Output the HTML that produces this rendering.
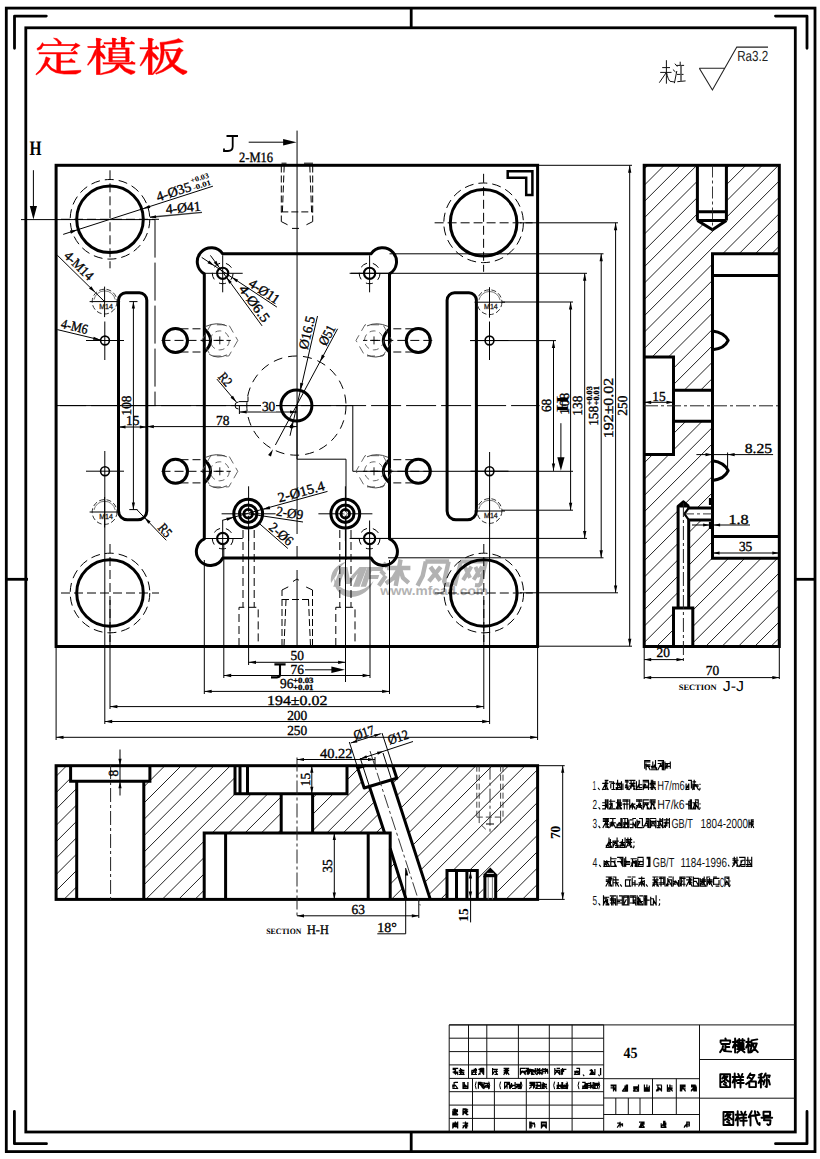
<!DOCTYPE html>
<html><head><meta charset="utf-8"><title>drawing</title>
<style>html,body{margin:0;padding:0;background:#fff;}svg{display:block}</style>
</head><body>
<svg text-rendering="geometricPrecision" width="820" height="1159" viewBox="0 0 820 1159">
<rect x="0" y="0" width="820" height="1159" fill="#fff"/>
<g fill="#b2b2b2" stroke="none">
<path d="M334.5 578 C333 590 342 597.5 352 597 C362 596.5 370 590 373.5 581 C368 588 360 591.5 352 591 C343 590.5 337 585.5 334.5 578 Z"/>
<path d="M331 583 C329.5 573 336 564 347 561.6 C342 565 337.5 569 336.5 575 Z"/>
<path d="M333.2 586.7 L340.9 566.9 L347.4 566.9 L349.6 577.9 L359.5 566.9 L367.2 566.9 L359.5 586.7 L352.9 586.7 L357.8 573.5 L349.6 584.1 L345.2 584.1 L343.7 573.5 L338.7 586.7 Z"/>
<path d="M360.6 586.7 L367.2 566.9 L383.7 566.9 L382.1 570.9 L371.6 570.9 L370.0 575.1 L379.3 575.1 L377.9 579.0 L368.7 579.0 L366.1 586.7 Z"/>
</g>
<path d="M383.2 563.0 L387.2 566.9M380.8 570.9 L384.7 574.9M378.8 585.8 L385.8 575.7" stroke="#b2b2b2" stroke-width="4.2" fill="none" stroke-linejoin="round" stroke-linecap="butt"/>
<path d="M386.9 568.0 L410.4 568.0M400.6 559.5 L395.7 585.8M398.4 569.6 L393.5 577.9 L385.8 583.6M400.3 569.6 L403.0 577.9 L408.7 582.8" stroke="#b2b2b2" stroke-width="4.4" fill="none" stroke-linejoin="round" stroke-linecap="butt"/>
<path d="M425.8 561.5 L422.7 575.7 L417.5 585.8M425.4 561.5 L449.1 561.5M448.6 561.5 L444.2 581.2 L445.5 584.5 L449.5 584.5M430.4 566.9 L440.3 580.6M440.7 566.9 L428.9 581.4" stroke="#b2b2b2" stroke-width="4.4" fill="none" stroke-linejoin="round" stroke-linecap="butt"/>
<path d="M460.9 561.5 L454.8 585.8M460.5 561.5 L486.4 561.5M485.9 561.5 L480.7 583.6 L478.5 585.4 L475.0 584.9M464.9 566.9 L470.1 577.9M471.4 566.5 L463.1 580.1M475.4 566.9 L479.8 577.0M482.0 566.5 L473.6 579.7" stroke="#b2b2b2" stroke-width="4.0" fill="none" stroke-linejoin="round" stroke-linecap="butt"/>
<text x="380.20" y="594.60" font-family="Liberation Sans" font-size="12.6" text-anchor="start" fill="#b2b2b2" font-weight="bold" textLength="107.80" lengthAdjust="spacingAndGlyphs">www.mfcad.com</text>
<rect x="6.30" y="8.10" width="808.70" height="1143.50" rx="0" stroke="#000" stroke-width="2.8" fill="none"/>
<rect x="25.80" y="27.80" width="769.50" height="1104.20" rx="0" stroke="#000" stroke-width="2.8" fill="none"/>
<path d="M46.3 16.1 H14.5 V48.3" stroke="#000" stroke-width="2.8" fill="none" stroke-linejoin="round" stroke-linecap="round"/>
<path d="M775.5 16.1 H807 V48.3" stroke="#000" stroke-width="2.8" fill="none" stroke-linejoin="round" stroke-linecap="round"/>
<path d="M14.4 1111.5 V1143.7 H46.5" stroke="#000" stroke-width="2.8" fill="none" stroke-linejoin="round" stroke-linecap="round"/>
<path d="M807 1111.5 V1143.7 H775.5" stroke="#000" stroke-width="2.8" fill="none" stroke-linejoin="round" stroke-linecap="round"/>
<line x1="411.20" y1="8.10" x2="411.20" y2="27.80" stroke="#000" stroke-width="2.8" stroke-linecap="butt"/>
<line x1="411.20" y1="1132.00" x2="411.20" y2="1151.60" stroke="#000" stroke-width="2.8" stroke-linecap="butt"/>
<line x1="6.30" y1="579.30" x2="28.00" y2="579.30" stroke="#000" stroke-width="2.8" stroke-linecap="butt"/>
<line x1="794.00" y1="579.30" x2="815.00" y2="579.30" stroke="#000" stroke-width="2.8" stroke-linecap="butt"/>
<rect x="56.10" y="165.30" width="481.50" height="481.20" rx="0" stroke="#000" stroke-width="3.0" fill="none"/>
<circle cx="110.00" cy="219.30" r="33.30" stroke="#000" stroke-width="3.0" fill="none"/>
<circle cx="110.00" cy="219.30" r="39.80" stroke="#000" stroke-width="1.0" fill="none" stroke-dasharray="9 5"/>
<circle cx="483.60" cy="222.80" r="33.30" stroke="#000" stroke-width="3.0" fill="none"/>
<circle cx="483.60" cy="222.80" r="39.80" stroke="#000" stroke-width="1.0" fill="none" stroke-dasharray="9 5"/>
<circle cx="110.00" cy="593.00" r="33.30" stroke="#000" stroke-width="3.0" fill="none"/>
<circle cx="110.00" cy="593.00" r="39.80" stroke="#000" stroke-width="1.0" fill="none" stroke-dasharray="9 5"/>
<circle cx="483.80" cy="593.00" r="33.30" stroke="#000" stroke-width="3.0" fill="none"/>
<circle cx="483.80" cy="593.00" r="39.80" stroke="#000" stroke-width="1.0" fill="none" stroke-dasharray="9 5"/>
<path d="M222.8 253.8 L371.0 253.8 A14 14 0 1 1 389.5 273.9 L389.5 538.9 A14 14 0 1 1 371.0 558.0 L222.8 558.0 A14 14 0 1 1 204.3 538.9 L204.3 273.9 A14 14 0 1 1 222.8 253.8 Z" stroke="#000" stroke-width="3.0" fill="none" stroke-linejoin="round" stroke-linecap="butt"/>
<path d="M118.5 300.2 A7.4 7.4 0 0 1 125.9 292.8 H139.4 A7.4 7.4 0 0 1 146.8 300.2 V510.99999999999994 A8.8 8.8 0 0 1 138.0 519.8 H127.3 A8.8 8.8 0 0 1 118.5 510.99999999999994 Z" stroke="#000" stroke-width="3.0" fill="none" stroke-linejoin="miter" stroke-linecap="butt"/>
<path d="M447.1 300.2 A7.4 7.4 0 0 1 454.5 292.8 H469.0 A7.4 7.4 0 0 1 476.4 300.2 V510.99999999999994 A8.8 8.8 0 0 1 467.59999999999997 519.8 H455.90000000000003 A8.8 8.8 0 0 1 447.1 510.99999999999994 Z" stroke="#000" stroke-width="3.0" fill="none" stroke-linejoin="miter" stroke-linecap="butt"/>
<circle cx="175.50" cy="340.50" r="12.00" stroke="#000" stroke-width="3.0" fill="none"/>
<circle cx="418.30" cy="340.50" r="12.00" stroke="#000" stroke-width="3.0" fill="none"/>
<circle cx="175.50" cy="471.30" r="12.00" stroke="#000" stroke-width="3.0" fill="none"/>
<circle cx="418.30" cy="471.30" r="12.00" stroke="#000" stroke-width="3.0" fill="none"/>
<circle cx="296.40" cy="405.60" r="15.50" stroke="#000" stroke-width="3.0" fill="none"/>
<circle cx="296.40" cy="405.60" r="49.60" stroke="#000" stroke-width="1.0" fill="none" stroke-dasharray="9 6"/>
<circle cx="248.20" cy="513.70" r="14.40" stroke="#000" stroke-width="3.0" fill="none"/>
<circle cx="248.20" cy="513.70" r="8.70" stroke="#000" stroke-width="3.0" fill="none"/>
<circle cx="248.20" cy="513.70" r="4.30" stroke="#000" stroke-width="2.8" fill="none"/>
<circle cx="345.30" cy="513.70" r="14.40" stroke="#000" stroke-width="3.0" fill="none"/>
<circle cx="345.30" cy="513.70" r="8.70" stroke="#000" stroke-width="3.0" fill="none"/>
<circle cx="345.30" cy="513.70" r="4.30" stroke="#000" stroke-width="2.8" fill="none"/>
<circle cx="222.70" cy="273.30" r="5.60" stroke="#000" stroke-width="2.1" fill="none"/>
<circle cx="369.60" cy="273.30" r="5.60" stroke="#000" stroke-width="2.1" fill="none"/>
<circle cx="222.70" cy="538.50" r="5.60" stroke="#000" stroke-width="2.1" fill="none"/>
<circle cx="369.60" cy="538.50" r="5.60" stroke="#000" stroke-width="2.1" fill="none"/>
<path d="M507.7 171.3 H532.4 V195.1 H526.2 V177.8 H507.7 Z" stroke="#000" stroke-width="2.5" fill="none" stroke-linejoin="miter" stroke-linecap="butt"/>
<path d="M204.3 328.9 Q216.8 340.5 204.3 352.1" stroke="#000" stroke-width="3.0" fill="none" stroke-linejoin="miter" stroke-linecap="butt"/>
<path d="M389.5 328.9 Q377.0 340.5 389.5 352.1" stroke="#000" stroke-width="3.0" fill="none" stroke-linejoin="miter" stroke-linecap="butt"/>
<path d="M204.3 459.7 Q216.8 471.3 204.3 482.90000000000003" stroke="#000" stroke-width="3.0" fill="none" stroke-linejoin="miter" stroke-linecap="butt"/>
<path d="M389.5 459.7 Q377.0 471.3 389.5 482.90000000000003" stroke="#000" stroke-width="3.0" fill="none" stroke-linejoin="miter" stroke-linecap="butt"/>
<clipPath id="cj"><path d="M644.2 165.3 H697.4 V220.5 L712.5 229.8 L726.4 220.5 V165.3 H779.3 V253.7 H712.5 V390.2 H673.5 V357 H644.2 Z M644.2 454.5 H673.5 V421.3 H712.5 V508 H688.7 V506.4 L683.4 501.8 L678.1 506.4 V608.1 H673.5 V646.5 H644.2 Z M712.5 519.9 V558.2 H779.3 V646.5 H692.8 V608.1 H688.7 V519.9 Z" clip-rule="evenodd"/></clipPath>
<g clip-path="url(#cj)">
<line x1="0.00" y1="813.17" x2="820.00" y2="-6.83" stroke="#222" stroke-width="1.0" stroke-linecap="butt"/>
<line x1="0.00" y1="829.50" x2="820.00" y2="9.50" stroke="#222" stroke-width="1.0" stroke-linecap="butt"/>
<line x1="0.00" y1="845.83" x2="820.00" y2="25.83" stroke="#222" stroke-width="1.0" stroke-linecap="butt"/>
<line x1="0.00" y1="862.16" x2="820.00" y2="42.16" stroke="#222" stroke-width="1.0" stroke-linecap="butt"/>
<line x1="0.00" y1="878.49" x2="820.00" y2="58.49" stroke="#222" stroke-width="1.0" stroke-linecap="butt"/>
<line x1="0.00" y1="894.82" x2="820.00" y2="74.82" stroke="#222" stroke-width="1.0" stroke-linecap="butt"/>
<line x1="0.00" y1="911.15" x2="820.00" y2="91.15" stroke="#222" stroke-width="1.0" stroke-linecap="butt"/>
<line x1="0.00" y1="927.48" x2="820.00" y2="107.48" stroke="#222" stroke-width="1.0" stroke-linecap="butt"/>
<line x1="0.00" y1="943.81" x2="820.00" y2="123.81" stroke="#222" stroke-width="1.0" stroke-linecap="butt"/>
<line x1="0.00" y1="960.14" x2="820.00" y2="140.14" stroke="#222" stroke-width="1.0" stroke-linecap="butt"/>
<line x1="0.00" y1="976.47" x2="820.00" y2="156.47" stroke="#222" stroke-width="1.0" stroke-linecap="butt"/>
<line x1="0.00" y1="992.80" x2="820.00" y2="172.80" stroke="#222" stroke-width="1.0" stroke-linecap="butt"/>
<line x1="0.00" y1="1009.13" x2="820.00" y2="189.13" stroke="#222" stroke-width="1.0" stroke-linecap="butt"/>
<line x1="0.00" y1="1025.46" x2="820.00" y2="205.46" stroke="#222" stroke-width="1.0" stroke-linecap="butt"/>
<line x1="0.00" y1="1041.79" x2="820.00" y2="221.79" stroke="#222" stroke-width="1.0" stroke-linecap="butt"/>
<line x1="0.00" y1="1058.12" x2="820.00" y2="238.12" stroke="#222" stroke-width="1.0" stroke-linecap="butt"/>
<line x1="0.00" y1="1074.45" x2="820.00" y2="254.45" stroke="#222" stroke-width="1.0" stroke-linecap="butt"/>
<line x1="0.00" y1="1090.78" x2="820.00" y2="270.78" stroke="#222" stroke-width="1.0" stroke-linecap="butt"/>
<line x1="0.00" y1="1107.11" x2="820.00" y2="287.11" stroke="#222" stroke-width="1.0" stroke-linecap="butt"/>
<line x1="0.00" y1="1123.44" x2="820.00" y2="303.44" stroke="#222" stroke-width="1.0" stroke-linecap="butt"/>
<line x1="0.00" y1="1139.77" x2="820.00" y2="319.77" stroke="#222" stroke-width="1.0" stroke-linecap="butt"/>
<line x1="0.00" y1="1156.10" x2="820.00" y2="336.10" stroke="#222" stroke-width="1.0" stroke-linecap="butt"/>
<line x1="0.00" y1="1172.43" x2="820.00" y2="352.43" stroke="#222" stroke-width="1.0" stroke-linecap="butt"/>
<line x1="0.00" y1="1188.76" x2="820.00" y2="368.76" stroke="#222" stroke-width="1.0" stroke-linecap="butt"/>
<line x1="0.00" y1="1205.09" x2="820.00" y2="385.09" stroke="#222" stroke-width="1.0" stroke-linecap="butt"/>
<line x1="0.00" y1="1221.42" x2="820.00" y2="401.42" stroke="#222" stroke-width="1.0" stroke-linecap="butt"/>
<line x1="0.00" y1="1237.75" x2="820.00" y2="417.75" stroke="#222" stroke-width="1.0" stroke-linecap="butt"/>
<line x1="0.00" y1="1254.08" x2="820.00" y2="434.08" stroke="#222" stroke-width="1.0" stroke-linecap="butt"/>
<line x1="0.00" y1="1270.41" x2="820.00" y2="450.41" stroke="#222" stroke-width="1.0" stroke-linecap="butt"/>
<line x1="0.00" y1="1286.74" x2="820.00" y2="466.74" stroke="#222" stroke-width="1.0" stroke-linecap="butt"/>
<line x1="0.00" y1="1303.07" x2="820.00" y2="483.07" stroke="#222" stroke-width="1.0" stroke-linecap="butt"/>
<line x1="0.00" y1="1319.40" x2="820.00" y2="499.40" stroke="#222" stroke-width="1.0" stroke-linecap="butt"/>
<line x1="0.00" y1="1335.73" x2="820.00" y2="515.73" stroke="#222" stroke-width="1.0" stroke-linecap="butt"/>
<line x1="0.00" y1="1352.06" x2="820.00" y2="532.06" stroke="#222" stroke-width="1.0" stroke-linecap="butt"/>
<line x1="0.00" y1="1368.39" x2="820.00" y2="548.39" stroke="#222" stroke-width="1.0" stroke-linecap="butt"/>
<line x1="0.00" y1="1384.72" x2="820.00" y2="564.72" stroke="#222" stroke-width="1.0" stroke-linecap="butt"/>
<line x1="0.00" y1="1401.05" x2="820.00" y2="581.05" stroke="#222" stroke-width="1.0" stroke-linecap="butt"/>
<line x1="0.00" y1="1417.38" x2="820.00" y2="597.38" stroke="#222" stroke-width="1.0" stroke-linecap="butt"/>
<line x1="0.00" y1="1433.71" x2="820.00" y2="613.71" stroke="#222" stroke-width="1.0" stroke-linecap="butt"/>
<line x1="0.00" y1="1450.04" x2="820.00" y2="630.04" stroke="#222" stroke-width="1.0" stroke-linecap="butt"/>
<line x1="0.00" y1="1466.37" x2="820.00" y2="646.37" stroke="#222" stroke-width="1.0" stroke-linecap="butt"/>
<line x1="0.00" y1="1482.70" x2="820.00" y2="662.70" stroke="#222" stroke-width="1.0" stroke-linecap="butt"/>
<line x1="0.00" y1="1499.03" x2="820.00" y2="679.03" stroke="#222" stroke-width="1.0" stroke-linecap="butt"/>
</g>
<rect x="644.20" y="165.30" width="135.10" height="481.20" rx="0" stroke="#000" stroke-width="3.0" fill="none"/>
<path d="M697.4 165.5 V220.5 M726.4 165.5 V220.5 M697.4 211.8 H726.4 M697.4 220.5 H726.4 M697.4 220.5 L712.5 229.8 L726.4 220.5" stroke="#000" stroke-width="3.0" fill="none" stroke-linejoin="round" stroke-linecap="butt"/>
<path d="M779.3 253.7 H712.5 V558.2 H779.3 M712.5 275.4 H779.3 M712.5 536.4 H779.3" stroke="#000" stroke-width="3.0" fill="none" stroke-linejoin="miter" stroke-linecap="butt"/>
<path d="M644.2 357 H673.5 V454.5 H644.2 M673.5 390.2 H712.5 M673.5 421.3 H712.5" stroke="#000" stroke-width="3.0" fill="none" stroke-linejoin="miter" stroke-linecap="butt"/>
<path d="M712.5 331 Q724 332.4 728.2 340.4 Q724.6 348.6 712.5 349.8" stroke="#000" stroke-width="3.0" fill="none" stroke-linejoin="round" stroke-linecap="butt"/>
<path d="M712.5 460.7 Q724 462.2 728.2 470.6 Q724.6 479 712.5 480.4" stroke="#000" stroke-width="3.0" fill="none" stroke-linejoin="round" stroke-linecap="butt"/>
<path d="M678.1 608.1 V506.4 L683.4 501.8 L688.7 506.4 M688.7 608.1 V519.9 H712.5 M688.7 508 H712.5 M688.7 506.4 V508" stroke="#000" stroke-width="3.0" fill="none" stroke-linejoin="round" stroke-linecap="butt"/>
<path d="M688.7 508 L684.4 513.8 L688.7 519.9" stroke="#000" stroke-width="2.2" fill="none" stroke-linejoin="round" stroke-linecap="butt"/>
<polygon points="676.8,507.6 683.2,500.6 690.8,507.6" fill="#000"/>
<path d="M673.5 646.5 V608.1 H692.8 V646.5" stroke="#000" stroke-width="3.0" fill="none" stroke-linejoin="miter" stroke-linecap="butt"/>
<path d="M710 498 V505 M710 522 V529" stroke="#000" stroke-width="2.2" fill="none" stroke-linejoin="miter" stroke-linecap="butt"/>
<clipPath id="ch"><path d="M56.1 765.7 H70.6 V781.2 H76.7 V899.4 H56.1 Z M149.9 765.7 H235 V793.8 H281.2 V833 H204.2 V899.4 H143.8 V781.2 H149.9 Z M347 765.7 H357 L364.2 788 L369.5 786.7 L384.6 833 H312.6 V793.8 H347 Z M390.2 848.5 L406.1 899.4 H390.2 Z M392.7 765.7 H537.6 V899.4 H497.2 V874.8 L490.3 867.6 L483.4 874.8 V899.4 H477.3 V870.6 H447 V899.4 H430.3 L391.5 779.5 L396.8 778.3 Z" clip-rule="evenodd"/></clipPath>
<g clip-path="url(#ch)">
<line x1="0.00" y1="816.03" x2="820.00" y2="-3.97" stroke="#222" stroke-width="1.0" stroke-linecap="butt"/>
<line x1="0.00" y1="832.40" x2="820.00" y2="12.40" stroke="#222" stroke-width="1.0" stroke-linecap="butt"/>
<line x1="0.00" y1="848.77" x2="820.00" y2="28.77" stroke="#222" stroke-width="1.0" stroke-linecap="butt"/>
<line x1="0.00" y1="865.14" x2="820.00" y2="45.14" stroke="#222" stroke-width="1.0" stroke-linecap="butt"/>
<line x1="0.00" y1="881.51" x2="820.00" y2="61.51" stroke="#222" stroke-width="1.0" stroke-linecap="butt"/>
<line x1="0.00" y1="897.88" x2="820.00" y2="77.88" stroke="#222" stroke-width="1.0" stroke-linecap="butt"/>
<line x1="0.00" y1="914.25" x2="820.00" y2="94.25" stroke="#222" stroke-width="1.0" stroke-linecap="butt"/>
<line x1="0.00" y1="930.62" x2="820.00" y2="110.62" stroke="#222" stroke-width="1.0" stroke-linecap="butt"/>
<line x1="0.00" y1="946.99" x2="820.00" y2="126.99" stroke="#222" stroke-width="1.0" stroke-linecap="butt"/>
<line x1="0.00" y1="963.36" x2="820.00" y2="143.36" stroke="#222" stroke-width="1.0" stroke-linecap="butt"/>
<line x1="0.00" y1="979.73" x2="820.00" y2="159.73" stroke="#222" stroke-width="1.0" stroke-linecap="butt"/>
<line x1="0.00" y1="996.10" x2="820.00" y2="176.10" stroke="#222" stroke-width="1.0" stroke-linecap="butt"/>
<line x1="0.00" y1="1012.47" x2="820.00" y2="192.47" stroke="#222" stroke-width="1.0" stroke-linecap="butt"/>
<line x1="0.00" y1="1028.84" x2="820.00" y2="208.84" stroke="#222" stroke-width="1.0" stroke-linecap="butt"/>
<line x1="0.00" y1="1045.21" x2="820.00" y2="225.21" stroke="#222" stroke-width="1.0" stroke-linecap="butt"/>
<line x1="0.00" y1="1061.58" x2="820.00" y2="241.58" stroke="#222" stroke-width="1.0" stroke-linecap="butt"/>
<line x1="0.00" y1="1077.95" x2="820.00" y2="257.95" stroke="#222" stroke-width="1.0" stroke-linecap="butt"/>
<line x1="0.00" y1="1094.32" x2="820.00" y2="274.32" stroke="#222" stroke-width="1.0" stroke-linecap="butt"/>
<line x1="0.00" y1="1110.69" x2="820.00" y2="290.69" stroke="#222" stroke-width="1.0" stroke-linecap="butt"/>
<line x1="0.00" y1="1127.06" x2="820.00" y2="307.06" stroke="#222" stroke-width="1.0" stroke-linecap="butt"/>
<line x1="0.00" y1="1143.43" x2="820.00" y2="323.43" stroke="#222" stroke-width="1.0" stroke-linecap="butt"/>
<line x1="0.00" y1="1159.80" x2="820.00" y2="339.80" stroke="#222" stroke-width="1.0" stroke-linecap="butt"/>
<line x1="0.00" y1="1176.17" x2="820.00" y2="356.17" stroke="#222" stroke-width="1.0" stroke-linecap="butt"/>
<line x1="0.00" y1="1192.54" x2="820.00" y2="372.54" stroke="#222" stroke-width="1.0" stroke-linecap="butt"/>
<line x1="0.00" y1="1208.91" x2="820.00" y2="388.91" stroke="#222" stroke-width="1.0" stroke-linecap="butt"/>
<line x1="0.00" y1="1225.28" x2="820.00" y2="405.28" stroke="#222" stroke-width="1.0" stroke-linecap="butt"/>
<line x1="0.00" y1="1241.65" x2="820.00" y2="421.65" stroke="#222" stroke-width="1.0" stroke-linecap="butt"/>
<line x1="0.00" y1="1258.02" x2="820.00" y2="438.02" stroke="#222" stroke-width="1.0" stroke-linecap="butt"/>
<line x1="0.00" y1="1274.39" x2="820.00" y2="454.39" stroke="#222" stroke-width="1.0" stroke-linecap="butt"/>
<line x1="0.00" y1="1290.76" x2="820.00" y2="470.76" stroke="#222" stroke-width="1.0" stroke-linecap="butt"/>
<line x1="0.00" y1="1307.13" x2="820.00" y2="487.13" stroke="#222" stroke-width="1.0" stroke-linecap="butt"/>
<line x1="0.00" y1="1323.50" x2="820.00" y2="503.50" stroke="#222" stroke-width="1.0" stroke-linecap="butt"/>
<line x1="0.00" y1="1339.87" x2="820.00" y2="519.87" stroke="#222" stroke-width="1.0" stroke-linecap="butt"/>
<line x1="0.00" y1="1356.24" x2="820.00" y2="536.24" stroke="#222" stroke-width="1.0" stroke-linecap="butt"/>
<line x1="0.00" y1="1372.61" x2="820.00" y2="552.61" stroke="#222" stroke-width="1.0" stroke-linecap="butt"/>
<line x1="0.00" y1="1388.98" x2="820.00" y2="568.98" stroke="#222" stroke-width="1.0" stroke-linecap="butt"/>
<line x1="0.00" y1="1405.35" x2="820.00" y2="585.35" stroke="#222" stroke-width="1.0" stroke-linecap="butt"/>
<line x1="0.00" y1="1421.72" x2="820.00" y2="601.72" stroke="#222" stroke-width="1.0" stroke-linecap="butt"/>
<line x1="0.00" y1="1438.09" x2="820.00" y2="618.09" stroke="#222" stroke-width="1.0" stroke-linecap="butt"/>
<line x1="0.00" y1="1454.46" x2="820.00" y2="634.46" stroke="#222" stroke-width="1.0" stroke-linecap="butt"/>
<line x1="0.00" y1="1470.83" x2="820.00" y2="650.83" stroke="#222" stroke-width="1.0" stroke-linecap="butt"/>
<line x1="0.00" y1="1487.20" x2="820.00" y2="667.20" stroke="#222" stroke-width="1.0" stroke-linecap="butt"/>
</g>
<rect x="56.10" y="765.70" width="481.50" height="133.70" rx="0" stroke="#000" stroke-width="3.0" fill="none"/>
<path d="M70.6 765.7 V781.2 H149.9 V765.7 M76.7 781.2 V899.4 M143.8 781.2 V899.4" stroke="#000" stroke-width="3.0" fill="none" stroke-linejoin="miter" stroke-linecap="butt"/>
<path d="M235 765.7 V793.8 H347 V765.7 M240 765.7 V793.8 M247.5 765.7 V793.8 M281.2 793.8 V833 M312.6 793.8 V833" stroke="#000" stroke-width="3.0" fill="none" stroke-linejoin="miter" stroke-linecap="butt"/>
<path d="M204.2 899.4 V833 H390.2 V899.4 M225.6 833 V899.4 M368.2 833 V899.4" stroke="#000" stroke-width="3.0" fill="none" stroke-linejoin="miter" stroke-linecap="butt"/>
<path d="M357 765.7 L364.2 788 L396.8 778.3 L392.7 765.7 M369.5 786.7 L384.6 833 M390.2 848.5 L406.1 899.4 M391.5 779.5 L430.3 899.4" stroke="#000" stroke-width="3.0" fill="none" stroke-linejoin="round" stroke-linecap="butt"/>
<path d="M447 899.4 V870.6 H477.3 V899.4 M456.5 870.6 V899.4 M466.9 870.6 V899.4" stroke="#000" stroke-width="3.0" fill="none" stroke-linejoin="miter" stroke-linecap="butt"/>
<path d="M484.9 899.4 V876 M495.7 899.4 V876" stroke="#000" stroke-width="3.0" fill="none" stroke-linejoin="miter" stroke-linecap="butt"/>
<polygon points="483.4,877.2 483.4,874.6 490.3,867.4 497.2,874.6 497.2,877.2" fill="#000"/>
<line x1="486.80" y1="873.40" x2="493.80" y2="873.40" stroke="#ddd" stroke-width="1.0" stroke-linecap="butt"/>
<path d="M297.05 130.6 V534 M297.05 546 V557 M297.05 570 V646" stroke="#000" stroke-width="1.0" fill="none" stroke-linejoin="miter" stroke-linecap="butt"/>
<line x1="56.10" y1="405.60" x2="539.60" y2="405.60" stroke="#000" stroke-width="1.0" stroke-dasharray="30 5" stroke-linecap="butt"/>
<line x1="21.00" y1="219.60" x2="155.00" y2="219.60" stroke="#000" stroke-width="1.0" stroke-linecap="butt"/>
<line x1="155.00" y1="219.60" x2="155.00" y2="405.60" stroke="#000" stroke-width="1.0" stroke-dasharray="38 5" stroke-linecap="butt"/>
<line x1="60.00" y1="405.60" x2="352.80" y2="405.60" stroke="#000" stroke-width="1.0" stroke-linecap="butt"/>
<path d="M352.8 405.6 V471.3 H573" stroke="#000" stroke-width="1.0" fill="none" stroke-linejoin="miter" stroke-linecap="butt"/>
<path d="M297 405.6 V459.2 H346 V560" stroke="#000" stroke-width="1.0" fill="none" stroke-linejoin="miter" stroke-linecap="butt"/>
<text x="35.40" y="155.00" font-family="Liberation Serif" font-size="20.5" text-anchor="middle" fill="#000" font-weight="bold" textLength="12.00" lengthAdjust="spacingAndGlyphs">H</text>
<line x1="33.40" y1="170.20" x2="33.40" y2="210.00" stroke="#000" stroke-width="1.0" stroke-linecap="butt"/>
<polygon points="33.40,219.60 29.80,206.10 37.00,206.10" fill="#000"/>
<line x1="560.90" y1="423.20" x2="560.90" y2="460.00" stroke="#000" stroke-width="1.0" stroke-linecap="butt"/>
<polygon points="560.90,470.80 557.30,457.30 564.50,457.30" fill="#000"/>
<text x="568.00" y="404.00" font-family="Liberation Serif" font-size="17" text-anchor="middle" fill="#000" font-weight="bold" textLength="16.00" lengthAdjust="spacingAndGlyphs" transform="rotate(-90.00 568.00 404.00)">H</text>
<path d="M226.5 136 H238 M232.7 136 V146.5 Q232.7 151 228 151 H224 V148.6" stroke="#000" stroke-width="1.8" fill="none" stroke-linejoin="miter" stroke-linecap="butt"/>
<line x1="248.70" y1="142.20" x2="285.00" y2="142.20" stroke="#000" stroke-width="1.0" stroke-linecap="butt"/>
<polygon points="296.60,142.20 283.10,145.50 283.10,138.90" fill="#000"/>
<path d="M274.4 664.4 H285.6 M280 664.4 V674.6 Q280 677.4 277 677.4 H271" stroke="#000" stroke-width="2.1" fill="none" stroke-linejoin="miter" stroke-linecap="butt"/>
<line x1="305.00" y1="669.80" x2="333.00" y2="669.80" stroke="#000" stroke-width="1.0" stroke-linecap="butt"/>
<polygon points="344.90,669.80 331.40,673.10 331.40,666.50" fill="#000"/>
<line x1="110.00" y1="170.30" x2="110.00" y2="268.30" stroke="#000" stroke-width="1.0" stroke-dasharray="9 4" stroke-linecap="butt"/>
<line x1="61.00" y1="219.30" x2="159.00" y2="219.30" stroke="#000" stroke-width="1.0" stroke-dasharray="9 4" stroke-linecap="butt"/>
<line x1="483.60" y1="173.80" x2="483.60" y2="271.80" stroke="#000" stroke-width="1.0" stroke-dasharray="9 4" stroke-linecap="butt"/>
<line x1="434.60" y1="222.80" x2="532.60" y2="222.80" stroke="#000" stroke-width="1.0" stroke-dasharray="9 4" stroke-linecap="butt"/>
<line x1="110.00" y1="544.00" x2="110.00" y2="642.00" stroke="#000" stroke-width="1.0" stroke-dasharray="9 4" stroke-linecap="butt"/>
<line x1="61.00" y1="593.00" x2="159.00" y2="593.00" stroke="#000" stroke-width="1.0" stroke-dasharray="9 4" stroke-linecap="butt"/>
<line x1="483.80" y1="544.00" x2="483.80" y2="642.00" stroke="#000" stroke-width="1.0" stroke-dasharray="9 4" stroke-linecap="butt"/>
<line x1="434.80" y1="593.00" x2="532.80" y2="593.00" stroke="#000" stroke-width="1.0" stroke-dasharray="9 4" stroke-linecap="butt"/>
<line x1="110.00" y1="600.00" x2="110.00" y2="709.00" stroke="#000" stroke-width="1.0" stroke-linecap="butt"/>
<line x1="483.80" y1="600.00" x2="483.80" y2="709.00" stroke="#000" stroke-width="1.0" stroke-linecap="butt"/>
<line x1="520.00" y1="222.80" x2="618.00" y2="222.80" stroke="#000" stroke-width="1.0" stroke-linecap="butt"/>
<line x1="520.00" y1="592.80" x2="618.00" y2="592.80" stroke="#000" stroke-width="1.0" stroke-linecap="butt"/>
<circle cx="104.60" cy="301.60" r="12.40" stroke="#333" stroke-width="1.0" fill="none" stroke-dasharray="5 2.5"/>
<path d="M94.0 299.6 A10.8 10.8 0 0 1 115.2 299.6" stroke="#777" stroke-width="1.0" fill="none" stroke-linejoin="miter" stroke-linecap="butt"/>
<line x1="89.60" y1="301.60" x2="120.10" y2="301.60" stroke="#000" stroke-width="1.0" stroke-linecap="butt"/>
<line x1="104.60" y1="286.60" x2="104.60" y2="317.10" stroke="#000" stroke-width="1.0" stroke-linecap="butt"/>
<text x="106.00" y="308.60" font-family="Liberation Sans" font-size="7.4" text-anchor="middle" fill="#222" textLength="13.70" lengthAdjust="spacingAndGlyphs" stroke="#222" stroke-width="0.3">M14</text>
<circle cx="489.50" cy="302.20" r="12.40" stroke="#333" stroke-width="1.0" fill="none" stroke-dasharray="5 2.5"/>
<path d="M478.9 300.2 A10.8 10.8 0 0 1 500.1 300.2" stroke="#777" stroke-width="1.0" fill="none" stroke-linejoin="miter" stroke-linecap="butt"/>
<line x1="474.50" y1="302.20" x2="505.00" y2="302.20" stroke="#000" stroke-width="1.0" stroke-linecap="butt"/>
<line x1="489.50" y1="287.20" x2="489.50" y2="317.70" stroke="#000" stroke-width="1.0" stroke-linecap="butt"/>
<text x="490.90" y="309.20" font-family="Liberation Sans" font-size="7.4" text-anchor="middle" fill="#222" textLength="13.70" lengthAdjust="spacingAndGlyphs" stroke="#222" stroke-width="0.3">M14</text>
<circle cx="104.60" cy="512.00" r="12.40" stroke="#333" stroke-width="1.0" fill="none" stroke-dasharray="5 2.5"/>
<path d="M94.0 510.0 A10.8 10.8 0 0 1 115.2 510.0" stroke="#777" stroke-width="1.0" fill="none" stroke-linejoin="miter" stroke-linecap="butt"/>
<line x1="89.60" y1="512.00" x2="120.10" y2="512.00" stroke="#000" stroke-width="1.0" stroke-linecap="butt"/>
<line x1="104.60" y1="497.00" x2="104.60" y2="527.50" stroke="#000" stroke-width="1.0" stroke-linecap="butt"/>
<text x="106.00" y="519.00" font-family="Liberation Sans" font-size="7.4" text-anchor="middle" fill="#222" textLength="13.70" lengthAdjust="spacingAndGlyphs" stroke="#222" stroke-width="0.3">M14</text>
<circle cx="489.50" cy="511.00" r="12.40" stroke="#333" stroke-width="1.0" fill="none" stroke-dasharray="5 2.5"/>
<path d="M478.9 509.0 A10.8 10.8 0 0 1 500.1 509.0" stroke="#777" stroke-width="1.0" fill="none" stroke-linejoin="miter" stroke-linecap="butt"/>
<line x1="474.50" y1="511.00" x2="505.00" y2="511.00" stroke="#000" stroke-width="1.0" stroke-linecap="butt"/>
<line x1="489.50" y1="496.00" x2="489.50" y2="526.50" stroke="#000" stroke-width="1.0" stroke-linecap="butt"/>
<text x="490.90" y="518.00" font-family="Liberation Sans" font-size="7.4" text-anchor="middle" fill="#222" textLength="13.70" lengthAdjust="spacingAndGlyphs" stroke="#222" stroke-width="0.3">M14</text>
<circle cx="105.00" cy="340.50" r="4.40" stroke="#000" stroke-width="1.6" fill="none"/>
<line x1="86.00" y1="340.50" x2="124.00" y2="340.50" stroke="#000" stroke-width="1.0" stroke-linecap="butt"/>
<circle cx="489.50" cy="340.50" r="4.40" stroke="#000" stroke-width="1.6" fill="none"/>
<line x1="470.50" y1="340.50" x2="508.50" y2="340.50" stroke="#000" stroke-width="1.0" stroke-linecap="butt"/>
<circle cx="105.00" cy="471.20" r="4.40" stroke="#000" stroke-width="1.6" fill="none"/>
<line x1="86.00" y1="471.20" x2="124.00" y2="471.20" stroke="#000" stroke-width="1.0" stroke-linecap="butt"/>
<circle cx="489.50" cy="471.20" r="4.40" stroke="#000" stroke-width="1.6" fill="none"/>
<line x1="470.50" y1="471.20" x2="508.50" y2="471.20" stroke="#000" stroke-width="1.0" stroke-linecap="butt"/>
<line x1="104.80" y1="321.50" x2="104.80" y2="360.00" stroke="#000" stroke-width="1.0" stroke-linecap="butt"/>
<line x1="489.50" y1="321.50" x2="489.50" y2="360.00" stroke="#000" stroke-width="1.0" stroke-linecap="butt"/>
<line x1="104.80" y1="451.00" x2="104.80" y2="724.00" stroke="#000" stroke-width="1.0" stroke-linecap="butt"/>
<line x1="489.60" y1="452.00" x2="489.60" y2="724.00" stroke="#000" stroke-width="1.0" stroke-linecap="butt"/>
<line x1="389.50" y1="253.80" x2="603.50" y2="253.80" stroke="#000" stroke-width="1.0" stroke-linecap="butt"/>
<line x1="351.00" y1="273.30" x2="587.00" y2="273.30" stroke="#000" stroke-width="1.0" stroke-linecap="butt"/>
<line x1="502.00" y1="302.00" x2="573.00" y2="302.00" stroke="#000" stroke-width="1.0" stroke-linecap="butt"/>
<line x1="470.00" y1="340.60" x2="556.00" y2="340.60" stroke="#000" stroke-width="1.0" stroke-linecap="butt"/>
<line x1="502.00" y1="510.20" x2="573.00" y2="510.20" stroke="#000" stroke-width="1.0" stroke-linecap="butt"/>
<line x1="351.00" y1="538.40" x2="587.00" y2="538.40" stroke="#000" stroke-width="1.0" stroke-linecap="butt"/>
<line x1="388.00" y1="557.80" x2="603.50" y2="557.80" stroke="#000" stroke-width="1.0" stroke-linecap="butt"/>
<line x1="537.60" y1="165.30" x2="632.00" y2="165.30" stroke="#000" stroke-width="1.0" stroke-linecap="butt"/>
<line x1="537.60" y1="646.20" x2="632.00" y2="646.20" stroke="#000" stroke-width="1.0" stroke-linecap="butt"/>
<line x1="553.50" y1="340.60" x2="553.50" y2="470.90" stroke="#000" stroke-width="1.0" stroke-linecap="butt"/>
<polygon points="553.50,340.60 555.15,348.00 551.85,348.00" fill="#000"/>
<polygon points="553.50,470.90 551.85,463.50 555.15,463.50" fill="#000"/>
<line x1="570.60" y1="302.00" x2="570.60" y2="510.20" stroke="#000" stroke-width="1.0" stroke-linecap="butt"/>
<polygon points="570.60,302.00 572.25,309.40 568.95,309.40" fill="#000"/>
<polygon points="570.60,510.20 568.95,502.80 572.25,502.80" fill="#000"/>
<line x1="584.70" y1="273.30" x2="584.70" y2="538.30" stroke="#000" stroke-width="1.0" stroke-linecap="butt"/>
<polygon points="584.70,273.30 586.35,280.70 583.05,280.70" fill="#000"/>
<polygon points="584.70,538.30 583.05,530.90 586.35,530.90" fill="#000"/>
<line x1="601.20" y1="253.80" x2="601.20" y2="557.70" stroke="#000" stroke-width="1.0" stroke-linecap="butt"/>
<polygon points="601.20,253.80 602.85,261.20 599.55,261.20" fill="#000"/>
<polygon points="601.20,557.70 599.55,550.30 602.85,550.30" fill="#000"/>
<line x1="615.60" y1="222.80" x2="615.60" y2="592.80" stroke="#000" stroke-width="1.0" stroke-linecap="butt"/>
<polygon points="615.60,222.80 617.25,230.20 613.95,230.20" fill="#000"/>
<polygon points="615.60,592.80 613.95,585.40 617.25,585.40" fill="#000"/>
<line x1="629.70" y1="165.30" x2="629.70" y2="646.20" stroke="#000" stroke-width="1.0" stroke-linecap="butt"/>
<polygon points="629.70,165.30 631.35,172.70 628.05,172.70" fill="#000"/>
<polygon points="629.70,646.20 628.05,638.80 631.35,638.80" fill="#000"/>
<text x="551.40" y="405.40" font-family="Liberation Serif" font-size="13.8" text-anchor="middle" fill="#000" textLength="13.40" lengthAdjust="spacingAndGlyphs" transform="rotate(-90.00 551.40 405.40)" stroke="#000" stroke-width="0.35">68</text>
<text x="568.60" y="411.50" font-family="Liberation Serif" font-size="13.8" text-anchor="middle" fill="#000" textLength="6.70" lengthAdjust="spacingAndGlyphs" transform="rotate(-90.00 568.60 411.50)" stroke="#000" stroke-width="0.35">1</text>
<text x="568.60" y="399.50" font-family="Liberation Serif" font-size="13.8" text-anchor="middle" fill="#000" textLength="13.40" lengthAdjust="spacingAndGlyphs" transform="rotate(-90.00 568.60 399.50)" stroke="#000" stroke-width="0.35">08</text>
<text x="582.40" y="405.70" font-family="Liberation Serif" font-size="13.8" text-anchor="middle" fill="#000" textLength="20.10" lengthAdjust="spacingAndGlyphs" transform="rotate(-90.00 582.40 405.70)" stroke="#000" stroke-width="0.35">138</text>
<text x="597.80" y="415.80" font-family="Liberation Serif" font-size="13.8" text-anchor="middle" fill="#000" textLength="20.10" lengthAdjust="spacingAndGlyphs" transform="rotate(-90.00 597.80 415.80)" stroke="#000" stroke-width="0.35">158</text>
<text x="592.30" y="405.20" font-family="Liberation Serif" font-size="8" text-anchor="start" fill="#000" font-weight="bold" textLength="19.00" lengthAdjust="spacingAndGlyphs" transform="rotate(-90.00 592.30 405.20)" stroke="#000" stroke-width="0.3">+0.03</text>
<text x="598.60" y="405.20" font-family="Liberation Serif" font-size="8" text-anchor="start" fill="#000" font-weight="bold" textLength="19.00" lengthAdjust="spacingAndGlyphs" transform="rotate(-90.00 598.60 405.20)" stroke="#000" stroke-width="0.3">+0.01</text>
<text x="613.20" y="408.00" font-family="Liberation Serif" font-size="13.8" text-anchor="middle" fill="#000" textLength="60.30" lengthAdjust="spacingAndGlyphs" transform="rotate(-90.00 613.20 408.00)" stroke="#000" stroke-width="0.35">192±0.02</text>
<text x="627.40" y="405.70" font-family="Liberation Serif" font-size="13.8" text-anchor="middle" fill="#000" textLength="20.10" lengthAdjust="spacingAndGlyphs" transform="rotate(-90.00 627.40 405.70)" stroke="#000" stroke-width="0.35">250</text>
<line x1="204.30" y1="560.00" x2="204.30" y2="694.00" stroke="#000" stroke-width="1.0" stroke-linecap="butt"/>
<line x1="389.50" y1="560.00" x2="389.50" y2="694.00" stroke="#000" stroke-width="1.0" stroke-linecap="butt"/>
<line x1="223.80" y1="545.00" x2="223.80" y2="678.00" stroke="#000" stroke-width="1.0" stroke-linecap="butt"/>
<line x1="370.00" y1="545.00" x2="370.00" y2="678.00" stroke="#000" stroke-width="1.0" stroke-linecap="butt"/>
<line x1="248.60" y1="530.00" x2="248.60" y2="665.00" stroke="#000" stroke-width="1.0" stroke-linecap="butt"/>
<line x1="345.50" y1="530.00" x2="345.50" y2="682.00" stroke="#000" stroke-width="1.0" stroke-linecap="butt"/>
<line x1="56.10" y1="646.00" x2="56.10" y2="740.00" stroke="#000" stroke-width="1.0" stroke-linecap="butt"/>
<line x1="537.60" y1="646.00" x2="537.60" y2="740.00" stroke="#000" stroke-width="1.0" stroke-linecap="butt"/>
<line x1="248.60" y1="662.30" x2="345.50" y2="662.30" stroke="#000" stroke-width="1.0" stroke-linecap="butt"/>
<polygon points="248.60,662.30 256.00,660.65 256.00,663.95" fill="#000"/>
<polygon points="345.50,662.30 338.10,663.95 338.10,660.65" fill="#000"/>
<text x="297.20" y="660.30" font-family="Liberation Serif" font-size="13.8" text-anchor="middle" fill="#000" textLength="13.40" lengthAdjust="spacingAndGlyphs" stroke="#000" stroke-width="0.35">50</text>
<line x1="223.80" y1="675.50" x2="370.00" y2="675.50" stroke="#000" stroke-width="1.0" stroke-linecap="butt"/>
<polygon points="223.80,675.50 231.20,673.85 231.20,677.15" fill="#000"/>
<polygon points="370.00,675.50 362.60,677.15 362.60,673.85" fill="#000"/>
<line x1="204.30" y1="691.40" x2="389.50" y2="691.40" stroke="#000" stroke-width="1.0" stroke-linecap="butt"/>
<polygon points="204.30,691.40 211.70,689.75 211.70,693.05" fill="#000"/>
<polygon points="389.50,691.40 382.10,693.05 382.10,689.75" fill="#000"/>
<line x1="110.00" y1="706.60" x2="483.80" y2="706.60" stroke="#000" stroke-width="1.0" stroke-linecap="butt"/>
<polygon points="110.00,706.60 117.40,704.95 117.40,708.25" fill="#000"/>
<polygon points="483.80,706.60 476.40,708.25 476.40,704.95" fill="#000"/>
<text x="297.20" y="704.60" font-family="Liberation Serif" font-size="13.8" text-anchor="middle" fill="#000" textLength="60.30" lengthAdjust="spacingAndGlyphs" stroke="#000" stroke-width="0.35">194±0.02</text>
<line x1="104.80" y1="721.50" x2="489.60" y2="721.50" stroke="#000" stroke-width="1.0" stroke-linecap="butt"/>
<polygon points="104.80,721.50 112.20,719.85 112.20,723.15" fill="#000"/>
<polygon points="489.60,721.50 482.20,723.15 482.20,719.85" fill="#000"/>
<text x="297.20" y="719.50" font-family="Liberation Serif" font-size="13.8" text-anchor="middle" fill="#000" textLength="20.10" lengthAdjust="spacingAndGlyphs" stroke="#000" stroke-width="0.35">200</text>
<line x1="56.10" y1="737.30" x2="537.60" y2="737.30" stroke="#000" stroke-width="1.0" stroke-linecap="butt"/>
<polygon points="56.10,737.30 63.50,735.65 63.50,738.95" fill="#000"/>
<polygon points="537.60,737.30 530.20,738.95 530.20,735.65" fill="#000"/>
<text x="297.20" y="735.40" font-family="Liberation Serif" font-size="13.8" text-anchor="middle" fill="#000" textLength="20.10" lengthAdjust="spacingAndGlyphs" stroke="#000" stroke-width="0.35">250</text>
<text x="297.20" y="674.20" font-family="Liberation Serif" font-size="13.8" text-anchor="middle" fill="#000" textLength="13.40" lengthAdjust="spacingAndGlyphs" stroke="#000" stroke-width="0.35">76</text>
<text x="286.80" y="687.80" font-family="Liberation Serif" font-size="13.8" text-anchor="middle" fill="#000" textLength="13.40" lengthAdjust="spacingAndGlyphs" stroke="#000" stroke-width="0.35">96</text>
<text x="293.00" y="682.60" font-family="Liberation Serif" font-size="8" text-anchor="start" fill="#000" font-weight="bold" textLength="20.50" lengthAdjust="spacingAndGlyphs" stroke="#000" stroke-width="0.3">+0.03</text>
<text x="293.00" y="690.20" font-family="Liberation Serif" font-size="8" text-anchor="start" fill="#000" font-weight="bold" textLength="20.50" lengthAdjust="spacingAndGlyphs" stroke="#000" stroke-width="0.3">+0.01</text>
<path d="M281.3 165.5 V221.6 M312.7 165.5 V221.6 M281.3 211.9 H312.7 M281.3 221.6 L289 225.5 M312.7 221.6 L305 225.5 M292 228.4 H302" stroke="#000" stroke-width="1.0" fill="none" stroke-dasharray="7 3" stroke-linejoin="miter" stroke-linecap="butt"/>
<path d="M284.2 165.5 L282.4 212 M309.8 165.5 L311.6 212" stroke="#000" stroke-width="1.0" fill="none" stroke-dasharray="7 3" stroke-linejoin="miter" stroke-linecap="butt"/>
<path d="M281.5 163.2 h5 M304 163.2 h9" stroke="#000" stroke-width="1.0" fill="none" stroke-linejoin="miter" stroke-linecap="butt"/>
<text x="256.00" y="161.80" font-family="Liberation Serif" font-size="14.2" text-anchor="middle" fill="#000" textLength="34.00" lengthAdjust="spacingAndGlyphs" stroke="#000" stroke-width="0.35">2-M16</text>
<path d="M282 646 V590 M312.5 646 V590 M282 599.5 H312.5 M282 590 L290 586 M312.5 590 L304 586 M293 581.5 L297 579 L301 581.5" stroke="#000" stroke-width="1.0" fill="none" stroke-dasharray="7 3" stroke-linejoin="miter" stroke-linecap="butt"/>
<path d="M284 646 L286 600 M310.5 646 L308.5 600" stroke="#000" stroke-width="1.0" fill="none" stroke-dasharray="7 3" stroke-linejoin="miter" stroke-linecap="butt"/>
<path d="M243.0 530 V607 M254.2 530 V607 M239.0 646 V607.3 H258.2 V646" stroke="#000" stroke-width="1.0" fill="none" stroke-dasharray="8 4" stroke-linejoin="miter" stroke-linecap="butt"/>
<line x1="248.60" y1="486.30" x2="248.60" y2="541.00" stroke="#000" stroke-width="1.0" stroke-linecap="butt"/>
<line x1="221.60" y1="513.80" x2="275.60" y2="513.80" stroke="#000" stroke-width="1.0" stroke-linecap="butt"/>
<line x1="246.60" y1="513.80" x2="250.60" y2="513.80" stroke="#fff" stroke-width="1.2" stroke-linecap="butt"/>
<line x1="248.60" y1="511.80" x2="248.60" y2="515.80" stroke="#fff" stroke-width="1.2" stroke-linecap="butt"/>
<path d="M339.79999999999995 530 V607 M351.0 530 V607 M335.79999999999995 646 V607.3 H355.0 V646" stroke="#000" stroke-width="1.0" fill="none" stroke-dasharray="8 4" stroke-linejoin="miter" stroke-linecap="butt"/>
<line x1="345.40" y1="486.30" x2="345.40" y2="541.00" stroke="#000" stroke-width="1.0" stroke-linecap="butt"/>
<line x1="318.40" y1="513.80" x2="372.40" y2="513.80" stroke="#000" stroke-width="1.0" stroke-linecap="butt"/>
<line x1="343.40" y1="513.80" x2="347.40" y2="513.80" stroke="#fff" stroke-width="1.2" stroke-linecap="butt"/>
<line x1="345.40" y1="511.80" x2="345.40" y2="515.80" stroke="#fff" stroke-width="1.2" stroke-linecap="butt"/>
<line x1="203.70" y1="273.30" x2="242.70" y2="273.30" stroke="#000" stroke-width="1.0" stroke-linecap="butt"/>
<line x1="222.70" y1="255.30" x2="222.70" y2="292.30" stroke="#000" stroke-width="1.0" stroke-linecap="butt"/>
<circle cx="222.70" cy="273.30" r="10.40" stroke="#000" stroke-width="1.0" fill="none" stroke-dasharray="7 6"/>
<line x1="388.60" y1="273.30" x2="349.60" y2="273.30" stroke="#000" stroke-width="1.0" stroke-linecap="butt"/>
<line x1="369.60" y1="255.30" x2="369.60" y2="292.30" stroke="#000" stroke-width="1.0" stroke-linecap="butt"/>
<circle cx="369.60" cy="273.30" r="10.40" stroke="#000" stroke-width="1.0" fill="none" stroke-dasharray="7 6"/>
<line x1="203.70" y1="538.50" x2="242.70" y2="538.50" stroke="#000" stroke-width="1.0" stroke-linecap="butt"/>
<line x1="222.70" y1="520.50" x2="222.70" y2="557.50" stroke="#000" stroke-width="1.0" stroke-linecap="butt"/>
<circle cx="222.70" cy="538.50" r="10.40" stroke="#000" stroke-width="1.0" fill="none" stroke-dasharray="7 6"/>
<line x1="388.60" y1="538.50" x2="349.60" y2="538.50" stroke="#000" stroke-width="1.0" stroke-linecap="butt"/>
<line x1="369.60" y1="520.50" x2="369.60" y2="557.50" stroke="#000" stroke-width="1.0" stroke-linecap="butt"/>
<circle cx="369.60" cy="538.50" r="10.40" stroke="#000" stroke-width="1.0" fill="none" stroke-dasharray="7 6"/>
<path d="M237.8 340.4 L228.8 356.0 L210.8 356.0 L201.8 340.4 L210.8 324.8 L228.8 324.8 Z" stroke="#555" stroke-width="0.9" fill="none" stroke-dasharray="8 5" stroke-linejoin="miter" stroke-linecap="butt"/>
<circle cx="219.80" cy="340.40" r="9.50" stroke="#555" stroke-width="0.9" fill="none" stroke-dasharray="6 4"/>
<path d="M205.8 326.4 Q216.8 321.4 226.8 325.9" stroke="#333" stroke-width="0.9" fill="none" stroke-linejoin="miter" stroke-linecap="butt"/>
<path d="M209.3 354.4 Q217.8 359.4 226.8 354.9" stroke="#333" stroke-width="0.9" fill="none" stroke-linejoin="miter" stroke-linecap="butt"/>
<line x1="215.80" y1="340.40" x2="223.80" y2="340.40" stroke="#000" stroke-width="0.9" stroke-linecap="butt"/>
<line x1="219.80" y1="336.40" x2="219.80" y2="344.40" stroke="#000" stroke-width="0.9" stroke-linecap="butt"/>
<line x1="180.50" y1="328.80" x2="204.30" y2="328.80" stroke="#000" stroke-width="1.0" stroke-dasharray="8 4" stroke-linecap="butt"/>
<line x1="180.50" y1="352.00" x2="204.30" y2="352.00" stroke="#000" stroke-width="1.0" stroke-dasharray="8 4" stroke-linecap="butt"/>
<line x1="161.50" y1="340.40" x2="230.80" y2="340.40" stroke="#000" stroke-width="1.0" stroke-dasharray="9 4" stroke-linecap="butt"/>
<path d="M237.8 471.3 L228.8 486.9 L210.8 486.9 L201.8 471.3 L210.8 455.7 L228.8 455.7 Z" stroke="#555" stroke-width="0.9" fill="none" stroke-dasharray="8 5" stroke-linejoin="miter" stroke-linecap="butt"/>
<circle cx="219.80" cy="471.30" r="9.50" stroke="#555" stroke-width="0.9" fill="none" stroke-dasharray="6 4"/>
<path d="M205.8 457.3 Q216.8 452.3 226.8 456.8" stroke="#333" stroke-width="0.9" fill="none" stroke-linejoin="miter" stroke-linecap="butt"/>
<path d="M209.3 485.3 Q217.8 490.3 226.8 485.8" stroke="#333" stroke-width="0.9" fill="none" stroke-linejoin="miter" stroke-linecap="butt"/>
<line x1="215.80" y1="471.30" x2="223.80" y2="471.30" stroke="#000" stroke-width="0.9" stroke-linecap="butt"/>
<line x1="219.80" y1="467.30" x2="219.80" y2="475.30" stroke="#000" stroke-width="0.9" stroke-linecap="butt"/>
<line x1="180.50" y1="459.70" x2="204.30" y2="459.70" stroke="#000" stroke-width="1.0" stroke-dasharray="8 4" stroke-linecap="butt"/>
<line x1="180.50" y1="482.90" x2="204.30" y2="482.90" stroke="#000" stroke-width="1.0" stroke-dasharray="8 4" stroke-linecap="butt"/>
<line x1="161.50" y1="471.30" x2="230.80" y2="471.30" stroke="#000" stroke-width="1.0" stroke-dasharray="9 4" stroke-linecap="butt"/>
<path d="M392.0 340.4 L383.0 356.0 L365.0 356.0 L356.0 340.4 L365.0 324.8 L383.0 324.8 Z" stroke="#555" stroke-width="0.9" fill="none" stroke-dasharray="8 5" stroke-linejoin="miter" stroke-linecap="butt"/>
<circle cx="374.00" cy="340.40" r="9.50" stroke="#555" stroke-width="0.9" fill="none" stroke-dasharray="6 4"/>
<path d="M388.0 326.4 Q377.0 321.4 367.0 325.9" stroke="#333" stroke-width="0.9" fill="none" stroke-linejoin="miter" stroke-linecap="butt"/>
<path d="M384.5 354.4 Q376.0 359.4 367.0 354.9" stroke="#333" stroke-width="0.9" fill="none" stroke-linejoin="miter" stroke-linecap="butt"/>
<line x1="370.00" y1="340.40" x2="378.00" y2="340.40" stroke="#000" stroke-width="0.9" stroke-linecap="butt"/>
<line x1="374.00" y1="336.40" x2="374.00" y2="344.40" stroke="#000" stroke-width="0.9" stroke-linecap="butt"/>
<line x1="413.30" y1="328.80" x2="389.50" y2="328.80" stroke="#000" stroke-width="1.0" stroke-dasharray="8 4" stroke-linecap="butt"/>
<line x1="413.30" y1="352.00" x2="389.50" y2="352.00" stroke="#000" stroke-width="1.0" stroke-dasharray="8 4" stroke-linecap="butt"/>
<line x1="432.30" y1="340.40" x2="363.00" y2="340.40" stroke="#000" stroke-width="1.0" stroke-dasharray="9 4" stroke-linecap="butt"/>
<path d="M392.0 471.3 L383.0 486.9 L365.0 486.9 L356.0 471.3 L365.0 455.7 L383.0 455.7 Z" stroke="#555" stroke-width="0.9" fill="none" stroke-dasharray="8 5" stroke-linejoin="miter" stroke-linecap="butt"/>
<circle cx="374.00" cy="471.30" r="9.50" stroke="#555" stroke-width="0.9" fill="none" stroke-dasharray="6 4"/>
<path d="M388.0 457.3 Q377.0 452.3 367.0 456.8" stroke="#333" stroke-width="0.9" fill="none" stroke-linejoin="miter" stroke-linecap="butt"/>
<path d="M384.5 485.3 Q376.0 490.3 367.0 485.8" stroke="#333" stroke-width="0.9" fill="none" stroke-linejoin="miter" stroke-linecap="butt"/>
<line x1="370.00" y1="471.30" x2="378.00" y2="471.30" stroke="#000" stroke-width="0.9" stroke-linecap="butt"/>
<line x1="374.00" y1="467.30" x2="374.00" y2="475.30" stroke="#000" stroke-width="0.9" stroke-linecap="butt"/>
<line x1="413.30" y1="459.70" x2="389.50" y2="459.70" stroke="#000" stroke-width="1.0" stroke-dasharray="8 4" stroke-linecap="butt"/>
<line x1="413.30" y1="482.90" x2="389.50" y2="482.90" stroke="#000" stroke-width="1.0" stroke-dasharray="8 4" stroke-linecap="butt"/>
<line x1="432.30" y1="471.30" x2="363.00" y2="471.30" stroke="#000" stroke-width="1.0" stroke-dasharray="9 4" stroke-linecap="butt"/>
<line x1="133.40" y1="301.60" x2="133.40" y2="509.60" stroke="#000" stroke-width="1.0" stroke-linecap="butt"/>
<line x1="129.30" y1="301.60" x2="137.50" y2="301.60" stroke="#000" stroke-width="1.0" stroke-linecap="butt"/>
<line x1="129.30" y1="509.60" x2="137.50" y2="509.60" stroke="#000" stroke-width="1.0" stroke-linecap="butt"/>
<polygon points="133.40,301.60 135.00,308.60 131.80,308.60" fill="#000"/>
<polygon points="133.40,509.60 131.80,502.60 135.00,502.60" fill="#000"/>
<text x="130.60" y="405.50" font-family="Liberation Serif" font-size="13.8" text-anchor="middle" fill="#000" textLength="20.10" lengthAdjust="spacingAndGlyphs" transform="rotate(-90.00 130.60 405.50)" stroke="#000" stroke-width="0.35">108</text>
<line x1="118.50" y1="427.00" x2="146.80" y2="427.00" stroke="#000" stroke-width="1.0" stroke-linecap="butt"/>
<polygon points="118.50,427.00 125.50,425.40 125.50,428.60" fill="#000"/>
<polygon points="146.80,427.00 139.80,428.60 139.80,425.40" fill="#000"/>
<text x="132.80" y="425.30" font-family="Liberation Serif" font-size="13.8" text-anchor="middle" fill="#000" textLength="13.40" lengthAdjust="spacingAndGlyphs" stroke="#000" stroke-width="0.35">15</text>
<line x1="146.80" y1="426.60" x2="297.00" y2="426.60" stroke="#000" stroke-width="1.0" stroke-linecap="butt"/>
<polygon points="146.80,426.60 153.80,425.00 153.80,428.20" fill="#000"/>
<polygon points="297.00,426.60 290.00,428.20 290.00,425.00" fill="#000"/>
<text x="222.80" y="424.80" font-family="Liberation Serif" font-size="13.8" text-anchor="middle" fill="#000" textLength="13.40" lengthAdjust="spacingAndGlyphs" stroke="#000" stroke-width="0.35">78</text>
<line x1="239.60" y1="412.00" x2="297.00" y2="412.00" stroke="#000" stroke-width="1.0" stroke-linecap="butt"/>
<line x1="239.40" y1="405.60" x2="239.40" y2="414.00" stroke="#000" stroke-width="1.0" stroke-linecap="butt"/>
<polygon points="239.60,412.00 246.60,410.40 246.60,413.60" fill="#000"/>
<polygon points="297.00,412.00 290.00,413.60 290.00,410.40" fill="#000"/>
<rect x="261" y="400" width="15" height="11.4" fill="#fff"/>
<text x="268.60" y="411.00" font-family="Liberation Serif" font-size="13.8" text-anchor="middle" fill="#000" textLength="13.40" lengthAdjust="spacingAndGlyphs" stroke="#000" stroke-width="0.35">30</text>
<path d="M238.8 401.6 H248 V396.5" stroke="#000" stroke-width="1.0" fill="none" stroke-linejoin="miter" stroke-linecap="butt"/>
<path d="M238.5 402 A3.2 3.2 0 0 0 238.5 409" stroke="#000" stroke-width="1.0" fill="none" stroke-linejoin="miter" stroke-linecap="butt"/>
<line x1="63.20" y1="234.40" x2="212.90" y2="186.20" stroke="#000" stroke-width="1.0" stroke-linecap="butt"/>
<text x="192.24" y="190.54" font-family="Liberation Serif" font-size="13.8" text-anchor="end" fill="#000" textLength="36.00" lengthAdjust="spacingAndGlyphs" transform="rotate(-17.85 192.24 190.54)" stroke="#000" stroke-width="0.35">4-Ø35</text>
<polygon points="77.48,229.80 70.94,233.64 69.93,230.50" fill="#000"/>
<polygon points="142.78,208.78 149.32,204.94 150.33,208.08" fill="#000"/>
<g transform="rotate(-17.8 193 190)">
<text x="193.50" y="183.00" font-family="Liberation Serif" font-size="7.5" text-anchor="start" fill="#000" font-weight="bold" textLength="19.00" lengthAdjust="spacingAndGlyphs">+0.03</text>
<text x="193.50" y="190.50" font-family="Liberation Serif" font-size="7.5" text-anchor="start" fill="#000" font-weight="bold" textLength="19.00" lengthAdjust="spacingAndGlyphs">-0.01</text>
</g>
<line x1="150.00" y1="217.30" x2="202.00" y2="212.40" stroke="#333" stroke-width="1.4" stroke-linecap="butt"/>
<polygon points="149.60,217.30 155.93,215.21 156.21,218.19" fill="#000"/>
<text x="201.00" y="210.60" font-family="Liberation Serif" font-size="13.8" text-anchor="end" fill="#000" textLength="35.00" lengthAdjust="spacingAndGlyphs" transform="rotate(-5.30 201.00 210.60)" stroke="#000" stroke-width="0.35">4-Ø41</text>
<line x1="57.30" y1="255.20" x2="95.40" y2="292.60" stroke="#000" stroke-width="1.0" stroke-linecap="butt"/>
<text x="88.22" y="281.35" font-family="Liberation Serif" font-size="13.8" text-anchor="end" fill="#000" textLength="35.00" lengthAdjust="spacingAndGlyphs" transform="rotate(44.47 88.22 281.35)" stroke="#000" stroke-width="0.35">4-M14</text>
<polygon points="95.41,292.61 88.97,288.60 91.28,286.25" fill="#000"/>
<line x1="95.40" y1="292.60" x2="104.60" y2="301.60" stroke="#000" stroke-width="1.0" stroke-linecap="butt"/>
<line x1="57.30" y1="329.60" x2="100.60" y2="340.00" stroke="#000" stroke-width="1.0" stroke-linecap="butt"/>
<text x="86.60" y="334.07" font-family="Liberation Serif" font-size="13.8" text-anchor="end" fill="#000" textLength="27.00" lengthAdjust="spacingAndGlyphs" transform="rotate(13.51 86.60 334.07)" stroke="#000" stroke-width="0.35">4-M6</text>
<polygon points="100.57,339.99 92.99,339.87 93.76,336.66" fill="#000"/>
<line x1="137.00" y1="509.80" x2="166.30" y2="540.30" stroke="#000" stroke-width="1.0" stroke-linecap="butt"/>
<polygon points="144.60,517.60 150.61,521.52 148.31,523.75" fill="#000"/>
<text x="166.00" y="538.50" font-family="Liberation Serif" font-size="13.8" text-anchor="end" fill="#000" textLength="13.40" lengthAdjust="spacingAndGlyphs" transform="rotate(49.60 166.00 538.50)" stroke="#000" stroke-width="0.35">R5</text>
<line x1="216.90" y1="379.10" x2="236.30" y2="402.00" stroke="#000" stroke-width="1.0" stroke-linecap="butt"/>
<polygon points="236.30,402.00 230.55,397.70 232.99,395.63" fill="#000"/>
<text x="217.50" y="377.20" font-family="Liberation Serif" font-size="13.8" text-anchor="start" fill="#000" textLength="13.40" lengthAdjust="spacingAndGlyphs" transform="rotate(49.70 217.50 377.20)" stroke="#000" stroke-width="0.35">R2</text>
<line x1="201.70" y1="257.40" x2="276.90" y2="307.10" stroke="#000" stroke-width="1.0" stroke-linecap="butt"/>
<text x="276.00" y="304.50" font-family="Liberation Serif" font-size="13.8" text-anchor="end" fill="#000" textLength="34.00" lengthAdjust="spacingAndGlyphs" transform="rotate(33.50 276.00 304.50)" stroke="#000" stroke-width="0.35">4-Ø11</text>
<polygon points="214.20,265.70 207.48,263.17 209.25,260.50" fill="#000"/>
<polygon points="231.50,277.10 238.22,279.63 236.45,282.30" fill="#000"/>
<line x1="210.40" y1="255.40" x2="262.10" y2="325.90" stroke="#000" stroke-width="1.0" stroke-linecap="butt"/>
<text x="263.20" y="323.20" font-family="Liberation Serif" font-size="13.8" text-anchor="end" fill="#000" textLength="42.00" lengthAdjust="spacingAndGlyphs" transform="rotate(53.70 263.20 323.20)" stroke="#000" stroke-width="0.35">4-Ø6.5</text>
<polygon points="219.20,267.40 213.77,262.71 216.35,260.81" fill="#000"/>
<polygon points="226.40,277.20 231.83,281.89 229.25,283.79" fill="#000"/>
<line x1="317.50" y1="316.00" x2="290.00" y2="435.80" stroke="#000" stroke-width="1.0" stroke-linecap="butt"/>
<text x="300.2" y="349.5" font-family="Liberation Serif" font-size="13.8" transform="rotate(-76.8 300.2 349.5) translate(0 10)" textLength="33.5" lengthAdjust="spacingAndGlyphs"></text>
<text x="307.40" y="350.00" font-family="Liberation Serif" font-size="13.8" text-anchor="start" fill="#000" textLength="33.50" lengthAdjust="spacingAndGlyphs" transform="rotate(-76.80 307.40 350.00)" stroke="#000" stroke-width="0.35">Ø16.5</text>
<polygon points="300.10,390.30 300.18,382.72 303.40,383.47" fill="#000"/>
<polygon points="292.80,421.00 292.72,428.58 289.50,427.83" fill="#000"/>
<line x1="337.60" y1="328.80" x2="275.40" y2="445.00" stroke="#000" stroke-width="1.0" stroke-linecap="butt"/>
<text x="326.00" y="346.60" font-family="Liberation Serif" font-size="13.8" text-anchor="start" fill="#000" textLength="21.00" lengthAdjust="spacingAndGlyphs" transform="rotate(-61.80 326.00 346.60)" stroke="#000" stroke-width="0.35">Ø51</text>
<polygon points="319.90,361.90 321.94,354.60 324.85,356.16" fill="#000"/>
<polygon points="273.00,449.30 270.96,456.60 268.05,455.04" fill="#000"/>
<line x1="222.10" y1="520.40" x2="327.50" y2="491.40" stroke="#000" stroke-width="1.0" stroke-linecap="butt"/>
<text x="325.60" y="489.80" font-family="Liberation Serif" font-size="13.8" text-anchor="end" fill="#000" textLength="48.00" lengthAdjust="spacingAndGlyphs" transform="rotate(-15.40 325.60 489.80)" stroke="#000" stroke-width="0.35">2-Ø15.4</text>
<polygon points="262.70,509.60 269.40,506.04 270.27,509.23" fill="#000"/>
<polygon points="233.90,517.30 227.20,520.86 226.33,517.67" fill="#000"/>
<line x1="248.30" y1="513.80" x2="303.00" y2="522.00" stroke="#000" stroke-width="1.0" stroke-linecap="butt"/>
<text x="302.50" y="519.50" font-family="Liberation Serif" font-size="13.8" text-anchor="end" fill="#000" textLength="27.00" lengthAdjust="spacingAndGlyphs" transform="rotate(8.30 302.50 519.50)" stroke="#000" stroke-width="0.35">2-Ø9</text>
<line x1="259.40" y1="523.60" x2="287.90" y2="548.50" stroke="#000" stroke-width="1.0" stroke-linecap="butt"/>
<text x="288.50" y="546.30" font-family="Liberation Serif" font-size="13.8" text-anchor="end" fill="#000" textLength="27.00" lengthAdjust="spacingAndGlyphs" transform="rotate(41.00 288.50 546.30)" stroke="#000" stroke-width="0.35">2-Ø6</text>
<line x1="712.50" y1="165.50" x2="712.50" y2="232.00" stroke="#222" stroke-width="0.9" stroke-dasharray="12 3 3 3" stroke-linecap="butt"/>
<line x1="644.00" y1="405.80" x2="778.00" y2="405.80" stroke="#222" stroke-width="1.0" stroke-dasharray="14 3 3 3" stroke-linecap="butt"/>
<line x1="683.40" y1="503.00" x2="683.40" y2="661.00" stroke="#222" stroke-width="1.0" stroke-dasharray="14 3 3 3" stroke-linecap="butt"/>
<line x1="684.00" y1="513.90" x2="712.00" y2="513.90" stroke="#222" stroke-width="0.9" stroke-dasharray="10 3 3 3" stroke-linecap="butt"/>
<line x1="644.20" y1="402.30" x2="673.50" y2="402.30" stroke="#000" stroke-width="1.0" stroke-linecap="butt"/>
<polygon points="644.20,402.30 651.20,400.70 651.20,403.90" fill="#000"/>
<polygon points="673.50,402.30 666.50,403.90 666.50,400.70" fill="#000"/>
<text x="659.00" y="401.00" font-family="Liberation Serif" font-size="13.8" text-anchor="middle" fill="#000" textLength="13.40" lengthAdjust="spacingAndGlyphs" stroke="#000" stroke-width="0.35">15</text>
<line x1="696.40" y1="454.60" x2="773.10" y2="454.60" stroke="#000" stroke-width="1.0" stroke-linecap="butt"/>
<polygon points="712.50,454.60 705.50,456.20 705.50,453.00" fill="#000"/>
<polygon points="727.60,454.60 734.60,453.00 734.60,456.20" fill="#000"/>
<line x1="727.60" y1="452.50" x2="727.60" y2="468.00" stroke="#000" stroke-width="1.0" stroke-linecap="butt"/>
<text x="758.40" y="452.90" font-family="Liberation Serif" font-size="13.8" text-anchor="middle" fill="#000" textLength="27.40" lengthAdjust="spacingAndGlyphs" stroke="#000" stroke-width="0.35">8.25</text>
<line x1="692.00" y1="525.00" x2="750.00" y2="525.00" stroke="#000" stroke-width="1.0" stroke-linecap="butt"/>
<polygon points="709.60,525.00 703.10,526.50 703.10,523.50" fill="#000"/>
<polygon points="713.60,525.00 720.10,523.50 720.10,526.50" fill="#000"/>
<text x="738.60" y="523.60" font-family="Liberation Serif" font-size="13.8" text-anchor="middle" fill="#000" textLength="20.20" lengthAdjust="spacingAndGlyphs" stroke="#000" stroke-width="0.35">1.8</text>
<line x1="712.50" y1="553.00" x2="779.30" y2="553.00" stroke="#000" stroke-width="1.0" stroke-linecap="butt"/>
<polygon points="712.50,553.00 719.50,551.40 719.50,554.60" fill="#000"/>
<polygon points="779.30,553.00 772.30,554.60 772.30,551.40" fill="#000"/>
<text x="745.60" y="551.00" font-family="Liberation Serif" font-size="13.8" text-anchor="middle" fill="#000" textLength="13.40" lengthAdjust="spacingAndGlyphs" stroke="#000" stroke-width="0.35">35</text>
<line x1="644.20" y1="646.00" x2="644.20" y2="679.00" stroke="#000" stroke-width="1.0" stroke-linecap="butt"/>
<line x1="779.30" y1="646.00" x2="779.30" y2="679.00" stroke="#000" stroke-width="1.0" stroke-linecap="butt"/>
<line x1="644.20" y1="659.60" x2="683.50" y2="659.60" stroke="#000" stroke-width="1.0" stroke-linecap="butt"/>
<polygon points="644.20,659.60 651.20,658.00 651.20,661.20" fill="#000"/>
<polygon points="683.50,659.60 676.50,661.20 676.50,658.00" fill="#000"/>
<text x="663.20" y="657.40" font-family="Liberation Serif" font-size="13.8" text-anchor="middle" fill="#000" textLength="13.40" lengthAdjust="spacingAndGlyphs" stroke="#000" stroke-width="0.35">20</text>
<line x1="644.20" y1="677.60" x2="779.30" y2="677.60" stroke="#000" stroke-width="1.0" stroke-linecap="butt"/>
<polygon points="644.20,677.60 651.20,676.00 651.20,679.20" fill="#000"/>
<polygon points="779.30,677.60 772.30,679.20 772.30,676.00" fill="#000"/>
<text x="712.40" y="675.40" font-family="Liberation Serif" font-size="13.8" text-anchor="middle" fill="#000" textLength="13.40" lengthAdjust="spacingAndGlyphs" stroke="#000" stroke-width="0.35">70</text>
<text x="678.70" y="690.30" font-family="Liberation Serif" font-size="8.2" text-anchor="start" fill="#000" font-weight="bold" textLength="38.00" lengthAdjust="spacingAndGlyphs">SECTION</text>
<text x="722.70" y="691.00" font-family="Liberation Sans" font-size="14.5" text-anchor="start" fill="#000" textLength="21.30" lengthAdjust="spacingAndGlyphs">J-J</text>
<line x1="110.60" y1="765.00" x2="110.60" y2="900.00" stroke="#222" stroke-width="1.0" stroke-dasharray="14 3 3 3" stroke-linecap="butt"/>
<line x1="297.00" y1="757.50" x2="297.00" y2="917.50" stroke="#222" stroke-width="1.0" stroke-dasharray="14 3 3 3" stroke-linecap="butt"/>
<line x1="120.00" y1="749.50" x2="120.00" y2="795.50" stroke="#000" stroke-width="1.0" stroke-linecap="butt"/>
<polygon points="120.00,765.70 118.40,758.70 121.60,758.70" fill="#000"/>
<polygon points="120.00,781.20 121.60,788.20 118.40,788.20" fill="#000"/>
<text x="117.60" y="773.20" font-family="Liberation Serif" font-size="13.8" text-anchor="middle" fill="#000" textLength="6.70" lengthAdjust="spacingAndGlyphs" transform="rotate(-90.00 117.60 773.20)" stroke="#000" stroke-width="0.35">8</text>
<line x1="311.80" y1="765.70" x2="311.80" y2="793.80" stroke="#000" stroke-width="1.0" stroke-linecap="butt"/>
<polygon points="311.80,765.70 313.40,772.70 310.20,772.70" fill="#000"/>
<polygon points="311.80,793.80 310.20,786.80 313.40,786.80" fill="#000"/>
<text x="309.80" y="779.60" font-family="Liberation Serif" font-size="13.8" text-anchor="middle" fill="#000" textLength="13.40" lengthAdjust="spacingAndGlyphs" transform="rotate(-90.00 309.80 779.60)" stroke="#000" stroke-width="0.35">15</text>
<line x1="334.30" y1="833.00" x2="334.30" y2="899.40" stroke="#000" stroke-width="1.0" stroke-linecap="butt"/>
<polygon points="334.30,833.00 335.90,840.00 332.70,840.00" fill="#000"/>
<polygon points="334.30,899.40 332.70,892.40 335.90,892.40" fill="#000"/>
<text x="332.20" y="866.00" font-family="Liberation Serif" font-size="13.8" text-anchor="middle" fill="#000" textLength="13.40" lengthAdjust="spacingAndGlyphs" transform="rotate(-90.00 332.20 866.00)" stroke="#000" stroke-width="0.35">35</text>
<line x1="297.00" y1="915.80" x2="418.80" y2="915.80" stroke="#000" stroke-width="1.0" stroke-linecap="butt"/>
<polygon points="297.00,915.80 304.00,914.20 304.00,917.40" fill="#000"/>
<polygon points="418.80,915.80 411.80,917.40 411.80,914.20" fill="#000"/>
<line x1="418.80" y1="899.40" x2="418.80" y2="918.00" stroke="#000" stroke-width="1.0" stroke-linecap="butt"/>
<text x="358.20" y="913.80" font-family="Liberation Serif" font-size="13.8" text-anchor="middle" fill="#000" textLength="13.40" lengthAdjust="spacingAndGlyphs" stroke="#000" stroke-width="0.35">63</text>
<line x1="297.00" y1="759.50" x2="375.00" y2="759.50" stroke="#000" stroke-width="1.0" stroke-linecap="butt"/>
<polygon points="297.00,759.50 304.00,757.90 304.00,761.10" fill="#000"/>
<polygon points="375.00,759.50 368.00,761.10 368.00,757.90" fill="#000"/>
<line x1="375.00" y1="757.00" x2="375.00" y2="766.00" stroke="#000" stroke-width="1.0" stroke-linecap="butt"/>
<text x="336.20" y="758.00" font-family="Liberation Serif" font-size="13.8" text-anchor="middle" fill="#000" textLength="32.50" lengthAdjust="spacingAndGlyphs" stroke="#000" stroke-width="0.35">40.22</text>
<line x1="405.70" y1="868.00" x2="405.70" y2="933.80" stroke="#000" stroke-width="1.0" stroke-linecap="butt"/>
<line x1="377.30" y1="933.80" x2="405.70" y2="933.80" stroke="#000" stroke-width="1.0" stroke-linecap="butt"/>
<polygon points="406.60,868.50 408.20,875.50 405.00,875.50" fill="#000"/>
<text x="387.00" y="932.20" font-family="Liberation Serif" font-size="13.8" text-anchor="middle" fill="#000" textLength="19.50" lengthAdjust="spacingAndGlyphs" stroke="#000" stroke-width="0.35">18°</text>
<line x1="370.00" y1="751.00" x2="420.20" y2="905.40" stroke="#222" stroke-width="0.9" stroke-dasharray="14 3 3 3" stroke-linecap="butt"/>
<line x1="357.00" y1="765.70" x2="349.30" y2="742.00" stroke="#000" stroke-width="1.0" stroke-linecap="butt"/>
<line x1="392.70" y1="765.70" x2="382.00" y2="733.00" stroke="#000" stroke-width="1.0" stroke-linecap="butt"/>
<line x1="350.70" y1="743.00" x2="380.80" y2="733.70" stroke="#000" stroke-width="1.0" stroke-linecap="butt"/>
<polygon points="350.70,743.00 356.47,739.64 357.35,742.51" fill="#000"/>
<polygon points="380.80,733.70 375.03,737.06 374.15,734.19" fill="#000"/>
<text x="355.20" y="740.20" font-family="Liberation Serif" font-size="13.8" text-anchor="start" fill="#000" textLength="21.00" lengthAdjust="spacingAndGlyphs" transform="rotate(-17.20 355.20 740.20)" stroke="#000" stroke-width="0.35">Ø17</text>
<path d="M357.4 768.0 L366.2 765.4" stroke="#000" stroke-width="2.6" fill="none" stroke-linejoin="miter" stroke-linecap="butt"/>
<line x1="369.50" y1="786.70" x2="360.20" y2="758.00" stroke="#000" stroke-width="1.0" stroke-linecap="butt"/>
<line x1="391.50" y1="779.50" x2="383.00" y2="753.00" stroke="#000" stroke-width="1.0" stroke-linecap="butt"/>
<line x1="360.00" y1="759.00" x2="413.00" y2="741.50" stroke="#000" stroke-width="1.0" stroke-linecap="butt"/>
<polygon points="360.60,758.80 366.31,755.34 367.24,758.19" fill="#000"/>
<polygon points="383.60,751.20 377.89,754.66 376.96,751.81" fill="#000"/>
<text x="389.50" y="744.80" font-family="Liberation Serif" font-size="13.8" text-anchor="start" fill="#000" textLength="21.00" lengthAdjust="spacingAndGlyphs" transform="rotate(-18.00 389.50 744.80)" stroke="#000" stroke-width="0.35">Ø12</text>
<line x1="537.60" y1="765.70" x2="564.70" y2="765.70" stroke="#000" stroke-width="1.0" stroke-linecap="butt"/>
<line x1="537.60" y1="899.40" x2="564.70" y2="899.40" stroke="#000" stroke-width="1.0" stroke-linecap="butt"/>
<line x1="562.70" y1="765.70" x2="562.70" y2="899.40" stroke="#000" stroke-width="1.0" stroke-linecap="butt"/>
<polygon points="562.70,765.70 564.30,772.70 561.10,772.70" fill="#000"/>
<polygon points="562.70,899.40 561.10,892.40 564.30,892.40" fill="#000"/>
<text x="560.20" y="832.40" font-family="Liberation Serif" font-size="13.8" text-anchor="middle" fill="#000" font-weight="bold" textLength="13.40" lengthAdjust="spacingAndGlyphs" transform="rotate(-90.00 560.20 832.40)">70</text>
<line x1="470.60" y1="870.60" x2="470.60" y2="922.40" stroke="#000" stroke-width="1.0" stroke-linecap="butt"/>
<polygon points="470.40,871.60 472.10,878.60 468.70,878.60" fill="#000"/>
<polygon points="470.40,898.40 468.70,891.40 472.10,891.40" fill="#000"/>
<text x="468.40" y="915.00" font-family="Liberation Serif" font-size="13.8" text-anchor="middle" fill="#000" font-weight="bold" textLength="13.40" lengthAdjust="spacingAndGlyphs" transform="rotate(-90.00 468.40 915.00)">15</text>
<path d="M476.8 765.7 V817.1 M503 765.7 V817.1 M479.2 765.7 V817.1 M500.6 765.7 V817.1 M476.8 817.1 H503 M479.2 817.1 V823 L487 830.5 M500.6 817.1 V823 L493 830.5" stroke="#222" stroke-width="0.85" fill="none" stroke-dasharray="6 3" stroke-linejoin="miter" stroke-linecap="butt"/>
<line x1="490.00" y1="765.70" x2="490.00" y2="834.00" stroke="#333" stroke-width="1.0" stroke-dasharray="14 3 3 3" stroke-linecap="butt"/>
<line x1="486.00" y1="824.00" x2="494.00" y2="824.00" stroke="#000" stroke-width="1.0" stroke-linecap="butt"/>
<path d="M488.2 877 V899.4 M492.4 877 V899.4" stroke="#666" stroke-width="0.9" fill="none" stroke-linejoin="miter" stroke-linecap="butt"/>
<text x="266.30" y="933.80" font-family="Liberation Serif" font-size="8.2" text-anchor="start" fill="#000" font-weight="bold" textLength="35.00" lengthAdjust="spacingAndGlyphs">SECTION</text>
<text x="307.00" y="934.30" font-family="Liberation Serif" font-size="13.5" text-anchor="start" fill="#000" textLength="21.70" lengthAdjust="spacingAndGlyphs" stroke="#000" stroke-width="0.35">H-H</text>
<path d="M699.3 68.3 H724.6 M699.3 68.3 L712.4 90 L736.8 47.1 H768" stroke="#222" stroke-width="1.1" fill="none" stroke-linejoin="miter" stroke-linecap="butt"/>
<text x="737.20" y="61.40" font-family="Liberation Sans" font-size="14.6" text-anchor="start" fill="#222" textLength="31.00" lengthAdjust="spacingAndGlyphs">Ra3.2</text>
<path d="M662.2 67.6 H670 M660.2 72.4 H671.5 M666.4 60.2 V83.7 M666.4 72.4 L659.3 82.7 M666.6 72.6 C667.5 77 668.5 80 670 81.3 L674.4 82" stroke="#111" stroke-width="1.0" fill="none" stroke-linejoin="miter" stroke-linecap="butt"/>
<path d="M674.9 63.7 L677.3 66.6 M672.9 69.5 L675.5 72 M674.4 83.2 L676.8 71" stroke="#111" stroke-width="1.0" fill="none" stroke-linejoin="miter" stroke-linecap="butt"/>
<path d="M680.2 61.7 V65 M676.3 65.4 H684.1 M677 74.4 H683.5 M677.3 81.7 L685.6 80.9" stroke="#111" stroke-width="1.0" fill="none" stroke-linejoin="miter" stroke-linecap="butt"/>
<line x1="681.00" y1="65.40" x2="681.00" y2="81.70" stroke="#555" stroke-width="1.6" stroke-linecap="butt"/>
<polygon points="53.5,38.1 57.0,38.6 61.4,42.6 60.8,44.8 58.4,44.8 57.5,41.5" fill="#f00" stroke="#f00" stroke-width="0.5" stroke-linejoin="round"/>
<rect x="42.0" y="44.3" width="34.0" height="1.5" fill="#f00" stroke="#f00" stroke-width="0.4"/>
<polygon points="42.5,42.6 43.8,44.5 41.2,49.0 37.6,50.2 36.9,48.6 40.0,46.5" fill="#f00" stroke="#f00" stroke-width="0.5" stroke-linejoin="round"/>
<polygon points="75.5,43.0 80.2,45.5 74.8,48.5 71.7,51.2 70.9,50.2 73.8,46.8 74.4,45.8" fill="#f00" stroke="#f00" stroke-width="0.5" stroke-linejoin="round"/>
<rect x="39.0" y="52.5" width="38.0" height="1.5" fill="#f00" stroke="#f00" stroke-width="0.4"/>
<polygon points="72.3,52.6 75.0,50.6 77.4,54.0" fill="#f00" stroke="#f00" stroke-width="0.5" stroke-linejoin="round"/>
<rect x="56.7" y="53.5" width="4.0" height="18.3" fill="#f00" stroke="#f00" stroke-width="0.4"/>
<rect x="60.0" y="60.9" width="15.0" height="1.4" fill="#f00" stroke="#f00" stroke-width="0.4"/>
<polygon points="68.8,61.0 71.0,58.4 75.2,62.3" fill="#f00" stroke="#f00" stroke-width="0.5" stroke-linejoin="round"/>
<polygon points="46.0,56.8 50.2,58.5 46.6,65.0 41.0,71.5 36.2,75.0 35.9,74.1 40.4,69.5 44.4,62.5" fill="#f00" stroke="#f00" stroke-width="0.5" stroke-linejoin="round"/>
<polygon points="46.3,62.0 48.6,64.5 52.0,68.3 57.0,70.8 64.0,71.0 81.0,70.3 80.6,72.0 76.0,74.1 64.0,74.1 56.0,72.7 50.4,69.7 46.8,65.6" fill="#f00" stroke="#f00" stroke-width="0.5" stroke-linejoin="round"/>
<rect x="87.8" y="46.3" width="17.2" height="1.4" fill="#f00" stroke="#f00" stroke-width="0.4"/>
<polygon points="101.8,46.4 103.5,44.8 105.3,47.7" fill="#f00" stroke="#f00" stroke-width="0.5" stroke-linejoin="round"/>
<rect x="96.3" y="38.6" width="3.8" height="36.1" fill="#f00" stroke="#f00" stroke-width="0.4"/>
<polygon points="96.3,38.1 101.8,39.6 100.1,40.5 96.3,40.5" fill="#f00" stroke="#f00" stroke-width="0.5" stroke-linejoin="round"/>
<polygon points="96.4,48.5 96.4,54.0 92.0,61.0 88.0,65.4 87.5,64.6 91.4,58.6 94.8,50.6" fill="#f00" stroke="#f00" stroke-width="0.5" stroke-linejoin="round"/>
<polygon points="100.0,50.8 103.6,54.4 105.5,58.2 104.0,59.3 100.0,55.2" fill="#f00" stroke="#f00" stroke-width="0.5" stroke-linejoin="round"/>
<rect x="104.0" y="42.6" width="30.0" height="1.4" fill="#f00" stroke="#f00" stroke-width="0.4"/>
<polygon points="130.0,42.7 131.6,40.9 134.7,44.0" fill="#f00" stroke="#f00" stroke-width="0.5" stroke-linejoin="round"/>
<rect x="112.3" y="38.3" width="3.1" height="9.3" fill="#f00" stroke="#f00" stroke-width="0.4"/>
<polygon points="112.3,38.0 117.0,39.3 115.4,40.0 112.3,40.0" fill="#f00" stroke="#f00" stroke-width="0.5" stroke-linejoin="round"/>
<rect x="121.2" y="37.3" width="3.8" height="10.3" fill="#f00" stroke="#f00" stroke-width="0.4"/>
<polygon points="121.2,37.0 126.6,38.4 125.0,39.2 121.2,39.2" fill="#f00" stroke="#f00" stroke-width="0.5" stroke-linejoin="round"/>
<rect x="108.9" y="48.0" width="3.4" height="13.6" fill="#f00" stroke="#f00" stroke-width="0.4"/>
<rect x="125.7" y="48.0" width="3.4" height="13.6" fill="#f00" stroke="#f00" stroke-width="0.4"/>
<rect x="109.0" y="48.0" width="20.0" height="1.3" fill="#f00" stroke="#f00" stroke-width="0.4"/>
<rect x="109.0" y="52.3" width="20.0" height="1.1" fill="#f00" stroke="#f00" stroke-width="0.4"/>
<rect x="109.0" y="56.8" width="20.0" height="1.1" fill="#f00" stroke="#f00" stroke-width="0.4"/>
<rect x="109.0" y="60.4" width="20.0" height="1.2" fill="#f00" stroke="#f00" stroke-width="0.4"/>
<rect x="103.0" y="62.7" width="32.0" height="1.4" fill="#f00" stroke="#f00" stroke-width="0.4"/>
<polygon points="130.4,62.8 132.0,60.9 135.1,64.1" fill="#f00" stroke="#f00" stroke-width="0.5" stroke-linejoin="round"/>
<polygon points="116.5,64.0 120.4,64.0 118.0,68.6 112.0,72.2 100.5,74.8 100.2,73.8 109.0,71.0 114.4,68.0" fill="#f00" stroke="#f00" stroke-width="0.5" stroke-linejoin="round"/>
<polygon points="119.4,64.4 122.0,64.7 126.0,68.4 135.1,71.4 134.6,73.0 131.0,74.6 124.4,71.2 120.4,67.2" fill="#f00" stroke="#f00" stroke-width="0.5" stroke-linejoin="round"/>
<rect x="140.0" y="47.6" width="18.5" height="1.4" fill="#f00" stroke="#f00" stroke-width="0.4"/>
<polygon points="154.8,47.7 156.3,45.6 158.7,49.0" fill="#f00" stroke="#f00" stroke-width="0.5" stroke-linejoin="round"/>
<rect x="148.2" y="38.6" width="3.9" height="36.1" fill="#f00" stroke="#f00" stroke-width="0.4"/>
<polygon points="148.2,38.1 153.8,39.6 152.1,40.5 148.2,40.5" fill="#f00" stroke="#f00" stroke-width="0.5" stroke-linejoin="round"/>
<polygon points="148.3,49.6 148.3,55.2 144.4,61.6 140.6,66.2 140.1,65.3 143.4,59.6 146.8,51.6" fill="#f00" stroke="#f00" stroke-width="0.5" stroke-linejoin="round"/>
<polygon points="152.0,51.4 156.0,55.0 158.6,59.0 157.0,60.2 152.0,55.6" fill="#f00" stroke="#f00" stroke-width="0.5" stroke-linejoin="round"/>
<polygon points="160.0,42.4 166.0,41.9 176.0,39.7 178.5,38.5 183.4,41.8 176.0,42.9 168.0,44.1 161.0,44.8" fill="#f00" stroke="#f00" stroke-width="0.5" stroke-linejoin="round"/>
<polygon points="160.2,43.0 164.1,44.5 164.1,54.0 162.6,62.0 158.6,69.0 152.6,75.0 151.9,74.3 157.0,67.5 160.0,60.5 161.0,52.0" fill="#f00" stroke="#f00" stroke-width="0.5" stroke-linejoin="round"/>
<rect x="164.0" y="49.4" width="17.0" height="1.4" fill="#f00" stroke="#f00" stroke-width="0.4"/>
<polygon points="177.0,49.5 179.0,47.5 183.3,50.5 181.0,52.1 177.6,60.0 172.0,66.6 163.0,71.7 156.0,74.2 155.6,73.2 162.0,70.0 168.4,65.0 173.4,59.0 176.4,52.0" fill="#f00" stroke="#f00" stroke-width="0.5" stroke-linejoin="round"/>
<polygon points="165.4,51.4 168.0,52.0 170.0,58.0 174.6,64.4 181.0,68.9 187.1,71.2 186.6,73.0 183.0,74.7 176.4,70.6 171.0,65.0 167.4,58.6" fill="#f00" stroke="#f00" stroke-width="0.5" stroke-linejoin="round"/>
<path d="M644.2 760.6 H650.4M644.2 762.0 H650.4M644.2 764.9 H650.4M646.7 766.3 H650.4M644.7 760.0 V768.7M646.1 763.6 V770.2M647.3 764.6 L650.4 770.2" stroke="#000" stroke-width="1.15" fill="none" stroke-linejoin="miter" stroke-linecap="butt"/>
<path d="M651.0 766.3 H654.7M651.0 767.8 H657.2M651.0 769.7 H657.2M655.5 760.0 V768.7M652.8 761.5 V768.7M654.1 764.6 L657.2 770.2" stroke="#000" stroke-width="1.15" fill="none" stroke-linejoin="miter" stroke-linecap="butt"/>
<path d="M657.7 760.6 H663.9M657.7 763.5 H661.4M660.2 766.3 H663.9M662.3 761.5 V770.2M663.5 760.0 V770.2M660.8 764.1 L657.7 770.2M660.8 764.6 L663.9 770.2" stroke="#000" stroke-width="1.15" fill="none" stroke-linejoin="miter" stroke-linecap="butt"/>
<path d="M664.5 763.5 H670.7M664.5 764.9 H668.2M664.5 766.3 H670.7M664.5 767.8 H668.2M664.9 761.5 V770.2M670.3 761.5 V768.7M667.6 764.1 L664.5 770.2" stroke="#000" stroke-width="1.15" fill="none" stroke-linejoin="miter" stroke-linecap="butt"/>
<text x="592.60" y="790.00" font-family="Liberation Sans" font-size="13.2" text-anchor="start" fill="#111" textLength="3.60" lengthAdjust="spacingAndGlyphs">1</text>
<path d="M598 787.8 l1.6 2.2" stroke="#000" stroke-width="1.1" fill="none" stroke-linejoin="miter" stroke-linecap="butt"/>
<path d="M604.7 780.4 H608.4M602.2 783.3 H608.4M602.2 789.5 H605.9M606.8 779.8 V790.0M605.4 781.3 V790.0M605.3 783.9 L602.2 790.0M605.3 784.4 L608.4 790.0" stroke="#000" stroke-width="1.15" fill="none" stroke-linejoin="miter" stroke-linecap="butt"/>
<path d="M609.0 781.8 H612.7M611.4 783.3 H615.2M611.4 789.5 H615.2M610.8 783.4 V788.5M613.5 781.3 V790.0" stroke="#000" stroke-width="1.15" fill="none" stroke-linejoin="miter" stroke-linecap="butt"/>
<path d="M615.7 783.3 H621.9M615.7 784.7 H621.9M615.7 787.6 H621.9M615.7 789.5 H621.9M621.5 781.3 V790.0M617.6 779.8 V790.0M618.8 783.9 L615.7 790.0M618.8 784.4 L621.9 790.0" stroke="#000" stroke-width="1.15" fill="none" stroke-linejoin="miter" stroke-linecap="butt"/>
<path d="M624.9 780.4 H628.7M624.9 781.8 H628.7M624.9 786.1 H628.7M624.9 787.6 H628.7M622.9 783.4 V790.0M627.0 779.8 V790.0M625.6 784.4 L628.7 790.0" stroke="#000" stroke-width="1.15" fill="none" stroke-linejoin="miter" stroke-linecap="butt"/>
<path d="M629.2 780.4 H635.4M629.2 783.3 H635.4M629.2 786.1 H635.4M631.1 779.8 V788.5M633.8 781.3 V790.0M632.3 783.9 L629.2 790.0M632.3 784.4 L635.4 790.0" stroke="#000" stroke-width="1.15" fill="none" stroke-linejoin="miter" stroke-linecap="butt"/>
<path d="M638.4 784.7 H642.2M638.4 787.6 H642.2M636.0 789.5 H642.2M636.4 781.3 V790.0M639.2 779.8 V788.5M639.1 783.9 L636.0 790.0" stroke="#000" stroke-width="1.15" fill="none" stroke-linejoin="miter" stroke-linecap="butt"/>
<path d="M642.7 780.4 H648.9M642.7 781.8 H648.9M642.7 786.1 H648.9M642.7 787.6 H648.9M644.6 783.4 V788.5M648.5 779.8 V790.0M643.2 783.4 V790.0M645.8 783.9 L642.7 790.0" stroke="#000" stroke-width="1.15" fill="none" stroke-linejoin="miter" stroke-linecap="butt"/>
<path d="M651.9 781.8 H655.7M649.5 783.3 H655.7M649.5 784.7 H655.7M649.5 787.6 H655.7M651.3 779.8 V790.0M652.7 779.8 V790.0M652.6 784.4 L655.7 790.0" stroke="#000" stroke-width="1.15" fill="none" stroke-linejoin="miter" stroke-linecap="butt"/>
<text x="657.20" y="790.00" font-family="Liberation Sans" font-size="13.2" text-anchor="start" fill="#111" textLength="27.50" lengthAdjust="spacingAndGlyphs">H7/m6</text>
<path d="M688.1 780.4 H691.8M685.6 787.6 H689.3M685.6 789.5 H689.3M688.8 783.4 V790.0M686.1 783.4 V788.5M691.4 779.8 V788.5M688.7 783.9 L685.6 790.0" stroke="#000" stroke-width="1.15" fill="none" stroke-linejoin="miter" stroke-linecap="butt"/>
<path d="M692.4 781.8 H696.1M692.4 784.7 H698.6M692.4 786.1 H698.6M692.8 783.4 V790.0M694.2 779.8 V790.0M695.5 783.9 L692.4 790.0M695.5 784.4 L698.6 790.0" stroke="#000" stroke-width="1.15" fill="none" stroke-linejoin="miter" stroke-linecap="butt"/>
<path d="M700 783.8 v1.2 M700 787.8 v1.2 l-0.8 1.4" stroke="#000" stroke-width="1.1" fill="none" stroke-linejoin="miter" stroke-linecap="butt"/>
<text x="592.40" y="809.40" font-family="Liberation Sans" font-size="13.2" text-anchor="start" fill="#111" textLength="4.60" lengthAdjust="spacingAndGlyphs">2</text>
<path d="M598.6 807.2 l1.6 2.2" stroke="#000" stroke-width="1.1" fill="none" stroke-linejoin="miter" stroke-linecap="butt"/>
<path d="M602.2 802.7 H605.9M602.2 805.5 H608.4M602.2 808.9 H605.9M608.0 799.2 V807.9M606.8 799.2 V807.9M605.4 799.2 V809.4M605.3 803.8 L608.4 809.4" stroke="#000" stroke-width="1.15" fill="none" stroke-linejoin="miter" stroke-linecap="butt"/>
<path d="M609.0 801.2 H615.2M609.0 804.1 H612.7M609.0 808.9 H615.2M610.8 799.2 V809.4M612.2 802.8 V807.9M612.1 803.3 L609.0 809.4" stroke="#000" stroke-width="1.15" fill="none" stroke-linejoin="miter" stroke-linecap="butt"/>
<path d="M615.7 802.7 H621.9M618.2 804.1 H621.9M618.2 805.5 H621.9M617.6 799.2 V809.4M618.9 799.2 V809.4M620.3 799.2 V809.4M618.8 803.3 L615.7 809.4M618.8 803.8 L621.9 809.4" stroke="#000" stroke-width="1.15" fill="none" stroke-linejoin="miter" stroke-linecap="butt"/>
<path d="M622.5 799.8 H628.7M622.5 801.2 H628.7M622.5 804.1 H628.7M627.0 799.2 V809.4M624.3 802.8 V809.4" stroke="#000" stroke-width="1.15" fill="none" stroke-linejoin="miter" stroke-linecap="butt"/>
<path d="M631.7 804.1 H635.4M629.2 805.5 H632.9M629.2 807.0 H635.4M629.7 799.2 V809.4M632.4 802.8 V809.4M632.3 803.3 L629.2 809.4M632.3 803.8 L635.4 809.4" stroke="#000" stroke-width="1.15" fill="none" stroke-linejoin="miter" stroke-linecap="butt"/>
<path d="M636.0 799.8 H642.2M636.0 801.2 H642.2M636.0 805.5 H642.2M636.0 807.0 H642.2M639.2 799.2 V807.9M640.5 802.8 V807.9M639.1 803.3 L636.0 809.4M639.1 803.8 L642.2 809.4" stroke="#000" stroke-width="1.15" fill="none" stroke-linejoin="miter" stroke-linecap="butt"/>
<path d="M642.7 799.8 H648.9M642.7 802.7 H648.9M642.7 804.1 H648.9M643.2 799.2 V809.4M647.3 802.8 V809.4M645.8 803.3 L642.7 809.4M645.8 803.8 L648.9 809.4" stroke="#000" stroke-width="1.15" fill="none" stroke-linejoin="miter" stroke-linecap="butt"/>
<path d="M649.5 799.8 H655.7M649.5 801.2 H655.7M649.5 802.7 H655.7M654.0 800.7 V809.4M651.3 799.2 V809.4M652.6 803.3 L649.5 809.4M652.6 803.8 L655.7 809.4" stroke="#000" stroke-width="1.15" fill="none" stroke-linejoin="miter" stroke-linecap="butt"/>
<text x="657.20" y="809.40" font-family="Liberation Sans" font-size="13.2" text-anchor="start" fill="#111" textLength="27.50" lengthAdjust="spacingAndGlyphs">H7/k6</text>
<path d="M688.1 801.2 H691.8M685.6 804.1 H689.3M688.1 805.5 H691.8M690.2 799.2 V809.4M688.8 800.7 V809.4M691.4 799.2 V809.4" stroke="#000" stroke-width="1.15" fill="none" stroke-linejoin="miter" stroke-linecap="butt"/>
<path d="M694.8 799.8 H698.6M692.4 802.7 H698.6M692.4 808.9 H696.1M695.6 800.7 V809.4M694.2 802.8 V809.4M698.2 799.2 V809.4M695.5 803.3 L692.4 809.4M695.5 803.8 L698.6 809.4" stroke="#000" stroke-width="1.15" fill="none" stroke-linejoin="miter" stroke-linecap="butt"/>
<path d="M700 803.2 v1.2 M700 807.2 v1.2 l-0.8 1.4" stroke="#000" stroke-width="1.1" fill="none" stroke-linejoin="miter" stroke-linecap="butt"/>
<text x="592.40" y="828.10" font-family="Liberation Sans" font-size="13.2" text-anchor="start" fill="#111" textLength="4.60" lengthAdjust="spacingAndGlyphs">3</text>
<path d="M598.6 825.9 l1.6 2.2" stroke="#000" stroke-width="1.1" fill="none" stroke-linejoin="miter" stroke-linecap="butt"/>
<path d="M602.8 818.5 H609.0M602.8 819.9 H609.0M602.8 821.4 H609.0M605.3 824.2 H609.0M607.4 817.9 V828.1M606.0 817.9 V828.1M605.9 822.0 L602.8 828.1M605.9 822.5 L609.0 828.1" stroke="#000" stroke-width="1.15" fill="none" stroke-linejoin="miter" stroke-linecap="butt"/>
<path d="M609.5 818.5 H615.8M609.5 822.8 H615.8M609.5 824.2 H613.3M609.5 825.7 H613.3M612.8 817.9 V826.6M611.4 821.5 V826.6M612.6 822.0 L609.5 828.1M612.6 822.5 L615.8 828.1" stroke="#000" stroke-width="1.15" fill="none" stroke-linejoin="miter" stroke-linecap="butt"/>
<path d="M616.3 824.2 H622.5M616.3 825.7 H622.5M616.3 827.6 H622.5M620.9 817.9 V826.6M622.1 817.9 V826.6M619.4 822.0 L616.3 828.1M619.4 822.5 L622.5 828.1" stroke="#000" stroke-width="1.15" fill="none" stroke-linejoin="miter" stroke-linecap="butt"/>
<path d="M623.0 818.5 H626.8M623.0 822.8 H629.2M623.0 824.2 H629.2M623.0 827.6 H629.2M627.6 817.9 V828.1M628.9 819.4 V828.1M624.9 817.9 V828.1M626.1 822.0 L623.0 828.1M626.1 822.5 L629.2 828.1" stroke="#000" stroke-width="1.15" fill="none" stroke-linejoin="miter" stroke-linecap="butt"/>
<path d="M632.3 818.5 H636.0M629.8 819.9 H633.5M629.8 824.2 H636.0M629.8 827.6 H633.5M635.6 821.5 V828.1M633.0 821.5 V828.1M632.9 822.5 L636.0 828.1" stroke="#000" stroke-width="1.15" fill="none" stroke-linejoin="miter" stroke-linecap="butt"/>
<path d="M639.0 818.5 H642.8M636.5 821.4 H640.3M636.5 822.8 H640.3M636.5 827.6 H642.8M642.4 817.9 V826.6M637.0 819.4 V828.1M639.6 822.0 L636.5 828.1" stroke="#000" stroke-width="1.15" fill="none" stroke-linejoin="miter" stroke-linecap="butt"/>
<path d="M645.8 818.5 H649.5M645.8 819.9 H649.5M645.8 821.4 H649.5M643.3 825.7 H649.5M647.9 821.5 V828.1M649.1 817.9 V828.1M646.4 822.0 L643.3 828.1M646.4 822.5 L649.5 828.1" stroke="#000" stroke-width="1.15" fill="none" stroke-linejoin="miter" stroke-linecap="butt"/>
<path d="M650.0 818.5 H656.2M650.0 821.4 H656.2M650.0 822.8 H656.2M650.0 825.7 H653.8M655.9 819.4 V828.1M650.5 819.4 V828.1M653.1 822.0 L650.0 828.1M653.1 822.5 L656.2 828.1" stroke="#000" stroke-width="1.15" fill="none" stroke-linejoin="miter" stroke-linecap="butt"/>
<path d="M659.3 819.9 H663.0M656.8 821.4 H663.0M656.8 825.7 H660.5M656.8 827.6 H660.5M662.6 817.9 V828.1M658.7 821.5 V828.1M660.0 817.9 V826.6M659.9 822.5 L663.0 828.1" stroke="#000" stroke-width="1.15" fill="none" stroke-linejoin="miter" stroke-linecap="butt"/>
<path d="M663.5 819.9 H669.8M663.5 822.8 H669.8M663.5 825.7 H667.3M665.4 821.5 V828.1M666.8 817.9 V826.6M669.4 817.9 V828.1M666.6 822.0 L663.5 828.1" stroke="#000" stroke-width="1.15" fill="none" stroke-linejoin="miter" stroke-linecap="butt"/>
<text x="671.40" y="828.10" font-family="Liberation Sans" font-size="13.2" text-anchor="start" fill="#111" textLength="21.50" lengthAdjust="spacingAndGlyphs">GB/T</text>
<text x="700.60" y="828.10" font-family="Liberation Sans" font-size="13.2" text-anchor="start" fill="#111" textLength="47.40" lengthAdjust="spacingAndGlyphs">1804-2000</text>
<path d="M750.7 819.9 H753.8M750.7 821.4 H753.8M748.6 822.8 H753.8M748.6 824.2 H753.8M751.3 819.4 V828.1M749.0 819.4 V828.1M751.2 822.5 L753.8 828.1" stroke="#000" stroke-width="1.15" fill="none" stroke-linejoin="miter" stroke-linecap="butt"/>
<path d="M608.3 842.5 H612.0M605.8 845.4 H609.5M605.8 847.3 H612.0M610.4 839.1 V847.8M609.0 837.6 V847.8M608.9 841.7 L605.8 847.8M608.9 842.2 L612.0 847.8" stroke="#000" stroke-width="1.15" fill="none" stroke-linejoin="miter" stroke-linecap="butt"/>
<path d="M612.5 841.1 H618.8M612.5 842.5 H616.3M615.0 845.4 H618.8M615.0 847.3 H618.8M613.0 841.2 V847.8M617.1 837.6 V847.8M615.6 841.7 L612.5 847.8M615.6 842.2 L618.8 847.8" stroke="#000" stroke-width="1.15" fill="none" stroke-linejoin="miter" stroke-linecap="butt"/>
<path d="M619.3 842.5 H625.5M619.3 845.4 H625.5M619.3 847.3 H625.5M622.5 839.1 V846.3M621.2 841.2 V846.3M625.1 837.6 V847.8M622.4 841.7 L619.3 847.8M622.4 842.2 L625.5 847.8" stroke="#000" stroke-width="1.15" fill="none" stroke-linejoin="miter" stroke-linecap="butt"/>
<path d="M626.0 839.6 H632.2M626.0 841.1 H629.8M626.0 842.5 H632.2M627.9 837.6 V846.3M630.6 837.6 V847.8M629.3 841.2 V846.3M629.1 841.7 L626.0 847.8M629.1 842.2 L632.2 847.8" stroke="#000" stroke-width="1.15" fill="none" stroke-linejoin="miter" stroke-linecap="butt"/>
<path d="M634 841.6 v1.2 M634 845.6 v1.2 l-0.8 1.4" stroke="#000" stroke-width="1.1" fill="none" stroke-linejoin="miter" stroke-linecap="butt"/>
<text x="592.40" y="866.90" font-family="Liberation Sans" font-size="13.2" text-anchor="start" fill="#111" textLength="4.80" lengthAdjust="spacingAndGlyphs">4</text>
<path d="M599.2 864.7 l1.6 2.2" stroke="#000" stroke-width="1.1" fill="none" stroke-linejoin="miter" stroke-linecap="butt"/>
<path d="M603.6 861.6 H609.8M603.6 864.5 H607.3M603.6 866.4 H609.8M604.1 860.3 V866.9M606.8 860.3 V866.9M606.7 860.8 L603.6 866.9M606.7 861.3 L609.8 866.9" stroke="#000" stroke-width="1.15" fill="none" stroke-linejoin="miter" stroke-linecap="butt"/>
<path d="M610.4 858.7 H616.6M610.4 861.6 H614.1M610.4 866.4 H616.6M610.8 856.7 V866.9M614.9 860.3 V866.9M613.5 861.3 L616.6 866.9" stroke="#000" stroke-width="1.15" fill="none" stroke-linejoin="miter" stroke-linecap="butt"/>
<path d="M617.1 857.3 H623.3M619.6 858.7 H623.3M617.1 861.6 H623.3M621.7 858.2 V865.4M622.9 856.7 V866.9M620.2 861.3 L623.3 866.9" stroke="#000" stroke-width="1.15" fill="none" stroke-linejoin="miter" stroke-linecap="butt"/>
<path d="M623.9 861.6 H630.1M626.3 863.0 H630.1M623.9 864.5 H630.1M625.7 856.7 V866.9M624.3 858.2 V866.9M627.0 860.8 L623.9 866.9" stroke="#000" stroke-width="1.15" fill="none" stroke-linejoin="miter" stroke-linecap="butt"/>
<path d="M630.6 858.7 H636.8M633.1 861.6 H636.8M630.6 863.0 H636.8M635.2 860.3 V866.9M632.5 858.2 V866.9M636.4 860.3 V866.9M633.7 860.8 L630.6 866.9M633.7 861.3 L636.8 866.9" stroke="#000" stroke-width="1.15" fill="none" stroke-linejoin="miter" stroke-linecap="butt"/>
<path d="M637.4 857.3 H643.6M637.4 861.6 H643.6M637.4 864.5 H643.6M637.4 866.4 H643.6M643.2 858.2 V865.4M637.8 858.2 V866.9M640.5 860.8 L637.4 866.9" stroke="#000" stroke-width="1.15" fill="none" stroke-linejoin="miter" stroke-linecap="butt"/>
<path d="M646.6 857.3 H650.3M646.6 858.7 H650.3M646.6 866.4 H650.3M648.7 856.7 V866.9M649.9 856.7 V866.9" stroke="#000" stroke-width="1.15" fill="none" stroke-linejoin="miter" stroke-linecap="butt"/>
<text x="652.80" y="866.90" font-family="Liberation Sans" font-size="13.2" text-anchor="start" fill="#111" textLength="21.50" lengthAdjust="spacingAndGlyphs">GB/T</text>
<text x="680.60" y="866.90" font-family="Liberation Sans" font-size="13.2" text-anchor="start" fill="#111" textLength="46.50" lengthAdjust="spacingAndGlyphs">1184-1996</text>
<path d="M728.2 864.7 l1 1.8" stroke="#000" stroke-width="1.1" fill="none" stroke-linejoin="miter" stroke-linecap="butt"/>
<path d="M732.4 858.7 H736.1M732.4 860.2 H738.6M732.4 863.0 H736.1M734.3 856.7 V865.4M737.0 856.7 V866.9M735.5 860.8 L732.4 866.9M735.5 861.3 L738.6 866.9" stroke="#000" stroke-width="1.15" fill="none" stroke-linejoin="miter" stroke-linecap="butt"/>
<path d="M739.1 857.3 H745.4M741.6 860.2 H745.4M741.6 864.5 H745.4M741.6 866.4 H745.4M741.0 860.3 V866.9M745.0 856.7 V865.4M742.2 860.8 L739.1 866.9" stroke="#000" stroke-width="1.15" fill="none" stroke-linejoin="miter" stroke-linecap="butt"/>
<path d="M745.9 860.2 H752.1M745.9 864.5 H752.1M745.9 866.4 H752.1M747.8 856.7 V866.9M751.7 856.7 V866.9M749.0 861.3 L752.1 866.9" stroke="#000" stroke-width="1.15" fill="none" stroke-linejoin="miter" stroke-linecap="butt"/>
<path d="M605.8 877.0 H612.0M608.3 878.4 H612.0M605.8 879.9 H612.0M605.8 881.3 H609.5M610.4 876.4 V886.6M609.0 876.4 V886.6M608.9 880.5 L605.8 886.6M608.9 881.0 L612.0 886.6" stroke="#000" stroke-width="1.15" fill="none" stroke-linejoin="miter" stroke-linecap="butt"/>
<path d="M612.5 877.0 H616.3M612.5 879.9 H618.8M612.5 882.7 H618.8M613.0 877.9 V886.6M615.8 876.4 V886.6M615.6 881.0 L618.8 886.6" stroke="#000" stroke-width="1.15" fill="none" stroke-linejoin="miter" stroke-linecap="butt"/>
<path d="M620.2 884.4 l1.6 2.2" stroke="#000" stroke-width="1.1" fill="none" stroke-linejoin="miter" stroke-linecap="butt"/>
<path d="M627.5 877.0 H631.2M625.0 879.9 H631.2M625.0 886.1 H631.2M625.5 880.0 V886.6M629.6 880.0 V886.6" stroke="#000" stroke-width="1.15" fill="none" stroke-linejoin="miter" stroke-linecap="butt"/>
<path d="M631.8 877.0 H635.5M631.8 882.7 H635.5M631.8 884.2 H638.0M632.2 877.9 V886.6M635.0 880.0 V886.6" stroke="#000" stroke-width="1.15" fill="none" stroke-linejoin="miter" stroke-linecap="butt"/>
<path d="M638.5 878.4 H644.7M641.0 881.3 H644.7M638.5 882.7 H642.2M638.5 884.2 H644.7M644.3 880.0 V886.6M641.7 876.4 V886.6M641.6 880.5 L638.5 886.6M641.6 881.0 L644.7 886.6" stroke="#000" stroke-width="1.15" fill="none" stroke-linejoin="miter" stroke-linecap="butt"/>
<path d="M646 884.4 l1.6 2.2" stroke="#000" stroke-width="1.1" fill="none" stroke-linejoin="miter" stroke-linecap="butt"/>
<path d="M652.4 877.0 H658.6M652.4 879.9 H658.6M652.4 882.7 H658.6M652.4 884.2 H658.6M657.0 877.9 V886.6M654.3 876.4 V886.6M655.5 880.5 L652.4 886.6M655.5 881.0 L658.6 886.6" stroke="#000" stroke-width="1.15" fill="none" stroke-linejoin="miter" stroke-linecap="butt"/>
<path d="M659.1 877.0 H662.9M659.1 878.4 H662.9M659.1 882.7 H665.4M659.1 884.2 H662.9M661.0 876.4 V886.6M663.7 876.4 V885.1M665.0 876.4 V886.6" stroke="#000" stroke-width="1.15" fill="none" stroke-linejoin="miter" stroke-linecap="butt"/>
<path d="M668.4 877.0 H672.1M668.4 879.9 H672.1M665.9 884.2 H669.6M671.7 880.0 V886.6M667.8 877.9 V886.6M669.0 880.5 L665.9 886.6M669.0 881.0 L672.1 886.6" stroke="#000" stroke-width="1.15" fill="none" stroke-linejoin="miter" stroke-linecap="butt"/>
<path d="M672.6 881.3 H676.4M675.1 882.7 H678.9M672.6 884.2 H676.4M673.1 876.4 V886.6M678.5 880.0 V886.6M675.8 880.5 L672.6 886.6M675.8 881.0 L678.9 886.6" stroke="#000" stroke-width="1.15" fill="none" stroke-linejoin="miter" stroke-linecap="butt"/>
<path d="M679.4 877.0 H685.6M679.4 878.4 H685.6M681.9 884.2 H685.6M681.3 876.4 V886.6M679.9 876.4 V886.6M684.0 877.9 V886.6M682.5 880.5 L679.4 886.6" stroke="#000" stroke-width="1.15" fill="none" stroke-linejoin="miter" stroke-linecap="butt"/>
<path d="M686.1 877.0 H692.4M686.1 879.9 H692.4M688.6 882.7 H692.4M689.4 876.4 V885.1M690.7 877.9 V885.1M689.2 880.5 L686.1 886.6M689.2 881.0 L692.4 886.6" stroke="#000" stroke-width="1.15" fill="none" stroke-linejoin="miter" stroke-linecap="butt"/>
<path d="M692.9 878.4 H699.1M692.9 881.3 H696.6M692.9 886.1 H699.1M698.7 877.9 V886.6M693.4 876.4 V886.6M696.0 881.0 L699.1 886.6" stroke="#000" stroke-width="1.15" fill="none" stroke-linejoin="miter" stroke-linecap="butt"/>
<path d="M699.6 879.9 H705.9M699.6 881.3 H705.9M699.6 884.2 H703.4M699.6 886.1 H705.9M700.1 877.9 V886.6M702.9 877.9 V885.1M704.2 876.4 V885.1M702.8 880.5 L699.6 886.6M702.8 881.0 L705.9 886.6" stroke="#000" stroke-width="1.15" fill="none" stroke-linejoin="miter" stroke-linecap="butt"/>
<path d="M706.4 877.0 H710.1M706.4 879.9 H712.6M706.4 881.3 H712.6M706.4 882.7 H712.6M706.9 876.4 V886.6M709.6 877.9 V885.1M709.5 880.5 L706.4 886.6M709.5 881.0 L712.6 886.6" stroke="#000" stroke-width="1.15" fill="none" stroke-linejoin="miter" stroke-linecap="butt"/>
<path d="M713.1 877.0 H716.9M713.1 878.4 H719.4M713.1 884.2 H719.4M715.6 886.1 H719.4M713.6 877.9 V885.1M719.0 880.0 V885.1" stroke="#000" stroke-width="1.15" fill="none" stroke-linejoin="miter" stroke-linecap="butt"/>
<text x="719.80" y="886.60" font-family="Liberation Sans" font-size="13.2" text-anchor="start" fill="#111" textLength="4.40" lengthAdjust="spacingAndGlyphs">C</text>
<path d="M724.6 877.0 H729.2M726.4 878.4 H729.2M724.6 884.2 H729.2M725.0 876.4 V885.1M728.9 876.4 V886.6M726.9 880.5 L724.6 886.6M726.9 881.0 L729.2 886.6" stroke="#000" stroke-width="1.15" fill="none" stroke-linejoin="miter" stroke-linecap="butt"/>
<path d="M730 880.4 v1.2 M730 884.4 v1.2 l-0.8 1.4" stroke="#000" stroke-width="1.1" fill="none" stroke-linejoin="miter" stroke-linecap="butt"/>
<text x="592.40" y="905.40" font-family="Liberation Sans" font-size="13.2" text-anchor="start" fill="#111" textLength="4.60" lengthAdjust="spacingAndGlyphs">5</text>
<path d="M598.6 903.2 l1.6 2.2" stroke="#000" stroke-width="1.1" fill="none" stroke-linejoin="miter" stroke-linecap="butt"/>
<path d="M603.0 897.2 H609.2M603.0 898.7 H606.7M603.0 901.5 H606.7M605.5 904.9 H609.2M607.6 898.8 V905.4M603.5 895.2 V905.4M606.2 896.7 V905.4M606.1 899.3 L603.0 905.4M606.1 899.8 L609.2 905.4" stroke="#000" stroke-width="1.15" fill="none" stroke-linejoin="miter" stroke-linecap="butt"/>
<path d="M609.8 895.8 H616.0M609.8 898.7 H616.0M609.8 900.1 H616.0M609.8 903.0 H616.0M611.6 896.7 V905.4M615.6 898.8 V905.4M613.0 895.2 V905.4M612.9 899.8 L616.0 905.4" stroke="#000" stroke-width="1.15" fill="none" stroke-linejoin="miter" stroke-linecap="butt"/>
<path d="M619.0 895.8 H622.7M616.5 900.1 H622.7M616.5 901.5 H620.2M616.5 903.0 H622.7M617.0 895.2 V905.4M622.3 895.2 V905.4" stroke="#000" stroke-width="1.15" fill="none" stroke-linejoin="miter" stroke-linecap="butt"/>
<path d="M623.2 895.8 H629.5M623.2 897.2 H629.5M623.2 904.9 H629.5M627.8 895.2 V905.4M623.7 895.2 V905.4M629.1 895.2 V903.9M626.4 899.3 L623.2 905.4" stroke="#000" stroke-width="1.15" fill="none" stroke-linejoin="miter" stroke-linecap="butt"/>
<path d="M630.0 895.8 H636.2M630.0 897.2 H636.2M632.5 900.1 H636.2M630.0 903.0 H636.2M633.2 895.2 V903.9M635.8 896.7 V905.4M633.1 899.8 L636.2 905.4" stroke="#000" stroke-width="1.15" fill="none" stroke-linejoin="miter" stroke-linecap="butt"/>
<path d="M639.2 895.8 H643.0M636.8 898.7 H640.5M636.8 901.5 H643.0M639.2 904.9 H643.0M637.2 895.2 V903.9M638.6 896.7 V905.4M640.0 898.8 V905.4M639.9 899.3 L636.8 905.4M639.9 899.8 L643.0 905.4" stroke="#000" stroke-width="1.15" fill="none" stroke-linejoin="miter" stroke-linecap="butt"/>
<path d="M643.5 895.8 H647.2M643.5 898.7 H647.2M643.5 900.1 H649.7M645.4 895.2 V905.4M646.7 895.2 V905.4M644.0 895.2 V905.4" stroke="#000" stroke-width="1.15" fill="none" stroke-linejoin="miter" stroke-linecap="butt"/>
<path d="M650.2 898.7 H654.0M652.7 903.0 H656.5M650.2 904.9 H654.0M650.7 896.7 V905.4M653.5 898.8 V903.9M656.1 895.2 V905.4M653.4 899.8 L656.5 905.4" stroke="#000" stroke-width="1.15" fill="none" stroke-linejoin="miter" stroke-linecap="butt"/>
<path d="M659.6 899.2 v1.2 M659.6 903.2 v1.2 l-0.8 1.4" stroke="#000" stroke-width="1.1" fill="none" stroke-linejoin="miter" stroke-linecap="butt"/>
<line x1="449.20" y1="1024.90" x2="603.70" y2="1024.90" stroke="#111" stroke-width="1.0" stroke-linecap="butt"/>
<line x1="449.20" y1="1038.20" x2="603.70" y2="1038.20" stroke="#111" stroke-width="1.0" stroke-linecap="butt"/>
<line x1="449.20" y1="1051.60" x2="603.70" y2="1051.60" stroke="#111" stroke-width="1.0" stroke-linecap="butt"/>
<line x1="449.20" y1="1064.90" x2="603.70" y2="1064.90" stroke="#111" stroke-width="1.0" stroke-linecap="butt"/>
<line x1="449.20" y1="1078.40" x2="603.70" y2="1078.40" stroke="#111" stroke-width="1.0" stroke-linecap="butt"/>
<line x1="449.20" y1="1091.70" x2="603.70" y2="1091.70" stroke="#111" stroke-width="1.0" stroke-linecap="butt"/>
<line x1="449.20" y1="1105.10" x2="603.70" y2="1105.10" stroke="#111" stroke-width="1.0" stroke-linecap="butt"/>
<line x1="449.20" y1="1118.40" x2="603.70" y2="1118.40" stroke="#111" stroke-width="1.0" stroke-linecap="butt"/>
<line x1="449.20" y1="1024.90" x2="795.00" y2="1024.90" stroke="#111" stroke-width="1.0" stroke-linecap="butt"/>
<line x1="449.20" y1="1024.90" x2="449.20" y2="1078.40" stroke="#111" stroke-width="1.0" stroke-linecap="butt"/>
<line x1="468.50" y1="1024.90" x2="468.50" y2="1078.40" stroke="#111" stroke-width="1.0" stroke-linecap="butt"/>
<line x1="486.80" y1="1024.90" x2="486.80" y2="1078.40" stroke="#111" stroke-width="1.0" stroke-linecap="butt"/>
<line x1="518.40" y1="1024.90" x2="518.40" y2="1078.40" stroke="#111" stroke-width="1.0" stroke-linecap="butt"/>
<line x1="549.30" y1="1024.90" x2="549.30" y2="1078.40" stroke="#111" stroke-width="1.0" stroke-linecap="butt"/>
<line x1="572.10" y1="1024.90" x2="572.10" y2="1078.40" stroke="#111" stroke-width="1.0" stroke-linecap="butt"/>
<line x1="449.20" y1="1078.40" x2="449.20" y2="1131.50" stroke="#111" stroke-width="1.0" stroke-linecap="butt"/>
<line x1="472.50" y1="1078.40" x2="472.50" y2="1131.50" stroke="#111" stroke-width="1.0" stroke-linecap="butt"/>
<line x1="494.40" y1="1078.40" x2="494.40" y2="1131.50" stroke="#111" stroke-width="1.0" stroke-linecap="butt"/>
<line x1="526.30" y1="1078.40" x2="526.30" y2="1131.50" stroke="#111" stroke-width="1.0" stroke-linecap="butt"/>
<line x1="549.30" y1="1078.40" x2="549.30" y2="1131.50" stroke="#111" stroke-width="1.0" stroke-linecap="butt"/>
<line x1="572.10" y1="1078.40" x2="572.10" y2="1131.50" stroke="#111" stroke-width="1.0" stroke-linecap="butt"/>
<line x1="603.70" y1="1024.90" x2="603.70" y2="1131.50" stroke="#111" stroke-width="1.0" stroke-linecap="butt"/>
<line x1="699.50" y1="1024.90" x2="699.50" y2="1131.50" stroke="#111" stroke-width="1.0" stroke-linecap="butt"/>
<line x1="603.70" y1="1078.70" x2="699.50" y2="1078.70" stroke="#111" stroke-width="1.0" stroke-linecap="butt"/>
<line x1="603.70" y1="1098.00" x2="699.50" y2="1098.00" stroke="#111" stroke-width="1.0" stroke-linecap="butt"/>
<line x1="603.70" y1="1114.50" x2="699.50" y2="1114.50" stroke="#111" stroke-width="1.0" stroke-linecap="butt"/>
<line x1="652.50" y1="1078.70" x2="652.50" y2="1114.50" stroke="#111" stroke-width="1.0" stroke-linecap="butt"/>
<line x1="676.30" y1="1078.70" x2="676.30" y2="1114.50" stroke="#111" stroke-width="1.0" stroke-linecap="butt"/>
<line x1="615.80" y1="1098.00" x2="615.80" y2="1114.50" stroke="#111" stroke-width="1.0" stroke-linecap="butt"/>
<line x1="628.30" y1="1098.00" x2="628.30" y2="1114.50" stroke="#111" stroke-width="1.0" stroke-linecap="butt"/>
<line x1="640.00" y1="1098.00" x2="640.00" y2="1114.50" stroke="#111" stroke-width="1.0" stroke-linecap="butt"/>
<line x1="699.50" y1="1059.50" x2="795.00" y2="1059.50" stroke="#111" stroke-width="1.0" stroke-linecap="butt"/>
<line x1="699.50" y1="1098.20" x2="795.00" y2="1098.20" stroke="#111" stroke-width="1.0" stroke-linecap="butt"/>
<text x="630.60" y="1058.20" font-family="Liberation Serif" font-size="15.5" text-anchor="middle" fill="#000" font-weight="bold" textLength="14.00" lengthAdjust="spacingAndGlyphs">45</text>
<path d="M725.4 1038.4 L725.9 1039.9M720.6 1042.5 L720.6 1040.4 L730.2 1040.4 L730.2 1042.5M721.5 1044.0 L729.3 1044.0M725.4 1044.0 L725.4 1051.1M725.4 1047.0 L729.3 1047.0M723.0 1046.0 L722.5 1048.5 L720.1 1052.1M722.5 1048.5 L724.4 1051.1 L731.2 1051.6" stroke="#000" stroke-width="1.95" fill="none" stroke-linejoin="round" stroke-linecap="round"/>
<path d="M732.9 1042.0 L737.2 1042.0M735.1 1038.4 L735.1 1052.6M735.1 1043.0 L732.9 1047.5M735.3 1044.0 L737.1 1046.0M737.2 1040.4 L744.5 1040.4M739.2 1038.9 L739.2 1042.0M742.6 1038.9 L742.6 1042.0M738.2 1043.0 L743.5 1043.0 L743.5 1047.5 L738.2 1047.5 L738.2 1043.0M738.2 1044.5 L743.5 1044.5M738.2 1046.0 L743.5 1046.0M737.2 1049.1 L744.5 1049.1M740.6 1047.5 L740.1 1050.1 L737.2 1052.6M741.1 1049.6 L744.5 1052.3" stroke="#000" stroke-width="1.95" fill="none" stroke-linejoin="round" stroke-linecap="round"/>
<path d="M746.2 1042.0 L750.6 1042.0M748.4 1038.4 L748.4 1052.6M748.4 1043.0 L746.2 1047.5M748.6 1044.0 L750.4 1046.0M757.3 1039.4 L751.5 1040.4M751.5 1040.4 L751.5 1046.5 L750.1 1052.6M751.5 1043.5 L756.8 1043.5 L755.4 1047.5 L751.5 1052.1M753.0 1045.0 L754.9 1049.1 L757.8 1052.1" stroke="#000" stroke-width="1.95" fill="none" stroke-linejoin="round" stroke-linecap="round"/>
<path d="M720.3 1074.2 L730.1 1074.2 L730.1 1087.1 L720.3 1087.1 L720.3 1074.2M724.3 1075.4 L722.4 1078.5M723.8 1076.4 L727.5 1076.4 L724.3 1080.5 L721.9 1082.0M724.3 1078.0 L728.5 1081.5M724.7 1082.0 L726.1 1083.0M723.8 1084.1 L726.6 1085.6" stroke="#000" stroke-width="1.95" fill="none" stroke-linejoin="round" stroke-linecap="round"/>
<path d="M732.6 1077.0 L736.8 1077.0M734.7 1073.4 L734.7 1087.6M734.7 1078.0 L732.6 1082.5M734.9 1079.0 L736.6 1081.0M738.2 1073.9 L739.1 1075.9M742.4 1073.9 L741.5 1075.9M737.7 1077.0 L743.3 1077.0M738.0 1080.0 L743.1 1080.0M737.3 1083.0 L743.8 1083.0M740.5 1077.0 L740.5 1087.6" stroke="#000" stroke-width="1.95" fill="none" stroke-linejoin="round" stroke-linecap="round"/>
<path d="M750.3 1073.4 L747.5 1078.0M749.8 1074.9 L754.5 1074.9 L751.2 1080.5 L746.1 1084.1M749.3 1077.5 L751.7 1079.3M749.3 1081.5 L755.9 1081.5 L755.9 1087.1 L749.3 1087.1 L749.3 1081.5" stroke="#000" stroke-width="1.95" fill="none" stroke-linejoin="round" stroke-linecap="round"/>
<path d="M761.9 1073.7 L759.1 1074.9M758.6 1077.5 L763.1 1077.5M760.9 1074.4 L760.9 1087.6M760.9 1078.5 L758.6 1083.0M761.1 1079.0 L762.8 1081.5M765.6 1073.4 L763.7 1077.5M765.1 1075.4 L769.8 1075.4 L769.1 1077.3M766.8 1077.5 L766.8 1087.1 L765.6 1086.4M764.7 1080.0 L763.5 1084.6M768.7 1080.0 L769.8 1084.6" stroke="#000" stroke-width="1.95" fill="none" stroke-linejoin="round" stroke-linecap="round"/>
<path d="M723.5 1112.0 L733.3 1112.0 L733.3 1124.9 L723.5 1124.9 L723.5 1112.0M727.5 1113.2 L725.6 1116.3M727.0 1114.2 L730.7 1114.2 L727.5 1118.3 L725.1 1119.8M727.5 1115.8 L731.7 1119.3M727.9 1119.8 L729.3 1120.8M727.0 1121.9 L729.8 1123.4" stroke="#000" stroke-width="1.95" fill="none" stroke-linejoin="round" stroke-linecap="round"/>
<path d="M735.6 1114.8 L739.8 1114.8M737.7 1111.2 L737.7 1125.4M737.7 1115.8 L735.6 1120.3M737.9 1116.8 L739.6 1118.8M741.2 1111.7 L742.1 1113.7M745.4 1111.7 L744.5 1113.7M740.7 1114.8 L746.3 1114.8M741.0 1117.8 L746.1 1117.8M740.3 1120.8 L746.8 1120.8M743.5 1114.8 L743.5 1125.4" stroke="#000" stroke-width="1.95" fill="none" stroke-linejoin="round" stroke-linecap="round"/>
<path d="M751.7 1111.2 L748.7 1117.3M750.5 1115.3 L750.5 1125.4M752.1 1115.8 L759.6 1114.8M754.9 1111.2 L755.9 1118.3 L757.7 1123.4 L759.6 1124.9 L759.6 1122.9M757.5 1111.7 L758.7 1113.4" stroke="#000" stroke-width="1.95" fill="none" stroke-linejoin="round" stroke-linecap="round"/>
<path d="M763.5 1111.7 L770.1 1111.7 L770.1 1115.8 L763.5 1115.8 L763.5 1111.7M761.5 1117.8 L772.2 1117.8M764.5 1117.8 L764.0 1120.3 L770.5 1120.3 L770.1 1124.4 L768.2 1125.2 L767.3 1124.2" stroke="#000" stroke-width="1.95" fill="none" stroke-linejoin="round" stroke-linecap="round"/>
<path d="M452.6 1068.4 H458.2M452.6 1069.4 H456.0M452.6 1072.2 H458.2M454.8 1073.2 H458.2M455.5 1068.0 V1074.8M454.3 1070.4 V1073.8M455.4 1071.1 L458.2 1074.8" stroke="#000" stroke-width="1.2" fill="none" stroke-linejoin="miter" stroke-linecap="butt"/>
<path d="M458.8 1070.3 H464.4M458.8 1072.2 H464.4M458.8 1074.5 H464.4M461.7 1069.0 V1073.8M460.5 1068.0 V1074.8M461.6 1071.1 L464.4 1074.8" stroke="#000" stroke-width="1.2" fill="none" stroke-linejoin="miter" stroke-linecap="butt"/>
<path d="M473.6 1069.4 H477.0M471.4 1070.3 H477.0M471.4 1072.2 H477.0M471.4 1074.5 H477.0M475.5 1068.0 V1074.8M471.8 1070.4 V1073.8M474.2 1070.7 L471.4 1074.8" stroke="#000" stroke-width="1.2" fill="none" stroke-linejoin="miter" stroke-linecap="butt"/>
<path d="M480.6 1068.4 H484.0M478.4 1069.4 H484.0M480.6 1070.3 H484.0M480.6 1071.3 H484.0M483.7 1068.0 V1073.8M480.1 1068.0 V1074.8M481.2 1070.7 L478.4 1074.8M481.2 1071.1 L484.0 1074.8" stroke="#000" stroke-width="1.2" fill="none" stroke-linejoin="miter" stroke-linecap="butt"/>
<path d="M492.2 1069.4 H497.8M494.4 1071.3 H497.8M494.4 1074.5 H497.8M492.6 1068.0 V1073.8M496.3 1069.0 V1074.8M495.0 1070.7 L492.2 1074.8M495.0 1071.1 L497.8 1074.8" stroke="#000" stroke-width="1.2" fill="none" stroke-linejoin="miter" stroke-linecap="butt"/>
<path d="M503.6 1068.4 H509.2M503.6 1070.3 H509.2M503.6 1072.2 H507.0M505.3 1068.0 V1073.8M507.7 1069.0 V1073.8M506.5 1069.0 V1074.8M506.4 1070.7 L503.6 1074.8M506.4 1071.1 L509.2 1074.8" stroke="#000" stroke-width="1.2" fill="none" stroke-linejoin="miter" stroke-linecap="butt"/>
<path d="M520.0 1068.4 H525.6M520.0 1071.3 H525.6M522.2 1072.2 H525.6M520.4 1068.0 V1074.8M525.3 1070.4 V1073.8M522.8 1070.7 L520.0 1074.8M522.8 1071.1 L525.6 1074.8" stroke="#000" stroke-width="1.2" fill="none" stroke-linejoin="miter" stroke-linecap="butt"/>
<path d="M525.6 1068.4 H529.0M527.8 1069.4 H531.2M525.6 1070.3 H531.2M525.6 1071.3 H531.2M527.3 1068.0 V1074.8M529.7 1069.0 V1073.8M528.5 1070.4 V1074.8" stroke="#000" stroke-width="1.2" fill="none" stroke-linejoin="miter" stroke-linecap="butt"/>
<path d="M531.2 1070.3 H536.8M533.4 1071.3 H536.8M531.2 1074.5 H534.6M532.9 1069.0 V1074.8M535.3 1068.0 V1073.8M531.6 1069.0 V1074.8M534.0 1070.7 L531.2 1074.8M534.0 1071.1 L536.8 1074.8" stroke="#000" stroke-width="1.2" fill="none" stroke-linejoin="miter" stroke-linecap="butt"/>
<path d="M536.8 1069.4 H540.2M536.8 1070.3 H542.4M536.8 1073.2 H542.4M539.7 1068.0 V1074.8M537.2 1068.0 V1073.8M542.1 1069.0 V1074.8M539.6 1070.7 L536.8 1074.8M539.6 1071.1 L542.4 1074.8" stroke="#000" stroke-width="1.2" fill="none" stroke-linejoin="miter" stroke-linecap="butt"/>
<path d="M542.4 1069.4 H548.0M544.6 1070.3 H548.0M542.4 1071.3 H548.0M547.7 1070.4 V1073.8M545.3 1068.0 V1073.8M542.8 1068.0 V1073.8" stroke="#000" stroke-width="1.2" fill="none" stroke-linejoin="miter" stroke-linecap="butt"/>
<path d="M556.6 1068.4 H560.0M554.4 1070.3 H560.0M556.6 1072.2 H560.0M559.7 1070.4 V1074.8M554.8 1068.0 V1073.8M557.2 1070.7 L554.4 1074.8M557.2 1071.1 L560.0 1074.8" stroke="#000" stroke-width="1.2" fill="none" stroke-linejoin="miter" stroke-linecap="butt"/>
<path d="M563.0 1069.4 H566.4M560.8 1070.3 H564.2M560.8 1071.3 H564.2M561.2 1069.0 V1073.8M562.5 1068.0 V1074.8M563.6 1070.7 L560.8 1074.8" stroke="#000" stroke-width="1.2" fill="none" stroke-linejoin="miter" stroke-linecap="butt"/>
<path d="M576.4 1068.4 H579.8M574.2 1071.3 H579.8M574.2 1072.2 H577.6M574.2 1074.5 H579.8M577.1 1070.4 V1073.8M579.5 1068.0 V1074.8M577.0 1070.7 L574.2 1074.8M577.0 1071.1 L579.8 1074.8" stroke="#000" stroke-width="1.2" fill="none" stroke-linejoin="miter" stroke-linecap="butt"/>
<path d="M589.6 1070.3 H593.0M591.8 1073.2 H595.2M589.6 1074.5 H595.2M592.5 1070.4 V1074.8M591.3 1069.0 V1074.8M594.9 1069.0 V1073.8M592.4 1070.7 L589.6 1074.8M592.4 1071.1 L595.2 1074.8" stroke="#000" stroke-width="1.2" fill="none" stroke-linejoin="miter" stroke-linecap="butt"/>
<path d="M583 1074.5 l1.2 1.6 M598.4 1074.5 l1.2 1.6" stroke="#000" stroke-width="1.1" fill="none" stroke-linejoin="miter" stroke-linecap="butt"/>
<line x1="600.60" y1="1068.00" x2="600.60" y2="1075.20" stroke="#000" stroke-width="1.3" stroke-linecap="butt"/>
<path d="M454.6 1082.4 H458.0M452.4 1085.3 H455.8M452.4 1088.5 H458.0M452.8 1084.4 V1087.8M454.1 1082.0 V1087.8M455.2 1085.1 L458.0 1088.8" stroke="#000" stroke-width="1.2" fill="none" stroke-linejoin="miter" stroke-linecap="butt"/>
<path d="M462.6 1086.2 H468.2M462.6 1087.2 H466.0M462.6 1088.5 H468.2M464.3 1082.0 V1087.8M463.0 1082.0 V1088.8M467.9 1082.0 V1088.8M465.4 1084.7 L462.6 1088.8M465.4 1085.1 L468.2 1088.8" stroke="#000" stroke-width="1.2" fill="none" stroke-linejoin="miter" stroke-linecap="butt"/>
<path d="M478.0 1082.4 H481.4M478.0 1083.4 H481.4M478.0 1084.3 H483.6M480.2 1085.3 H483.6M482.1 1082.0 V1087.8M483.3 1084.4 V1087.8M478.4 1082.0 V1088.8M480.8 1085.1 L483.6 1088.8" stroke="#000" stroke-width="1.2" fill="none" stroke-linejoin="miter" stroke-linecap="butt"/>
<path d="M483.6 1083.4 H489.2M485.8 1085.3 H489.2M483.6 1087.2 H489.2M484.0 1082.0 V1088.8M488.9 1084.4 V1088.8M487.7 1083.0 V1087.8M486.4 1084.7 L483.6 1088.8M486.4 1085.1 L489.2 1088.8" stroke="#000" stroke-width="1.2" fill="none" stroke-linejoin="miter" stroke-linecap="butt"/>
<path d="M504.2 1082.4 H509.8M506.4 1083.4 H509.8M506.4 1084.3 H509.8M507.1 1082.0 V1088.8M504.6 1082.0 V1088.8M509.5 1082.0 V1088.8M507.0 1084.7 L504.2 1088.8" stroke="#000" stroke-width="1.2" fill="none" stroke-linejoin="miter" stroke-linecap="butt"/>
<path d="M509.8 1085.3 H515.4M509.8 1086.2 H513.2M512.0 1088.5 H515.4M511.5 1083.0 V1087.8M515.1 1082.0 V1087.8M510.2 1084.4 V1088.8M512.6 1084.7 L509.8 1088.8" stroke="#000" stroke-width="1.2" fill="none" stroke-linejoin="miter" stroke-linecap="butt"/>
<path d="M515.4 1084.3 H521.0M515.4 1086.2 H521.0M515.4 1087.2 H521.0M517.6 1088.5 H521.0M519.5 1084.4 V1087.8M520.7 1082.0 V1088.8M518.2 1084.7 L515.4 1088.8M518.2 1085.1 L521.0 1088.8" stroke="#000" stroke-width="1.2" fill="none" stroke-linejoin="miter" stroke-linecap="butt"/>
<path d="M529.4 1082.4 H535.0M529.4 1083.4 H535.0M531.6 1084.3 H535.0M529.4 1085.3 H535.0M534.7 1082.0 V1087.8M533.5 1082.0 V1088.8M531.1 1082.0 V1087.8M532.2 1084.7 L529.4 1088.8" stroke="#000" stroke-width="1.2" fill="none" stroke-linejoin="miter" stroke-linecap="butt"/>
<path d="M535.4 1082.4 H541.0M535.4 1085.3 H541.0M537.6 1086.2 H541.0M535.4 1088.5 H541.0M540.7 1082.0 V1088.8M537.1 1082.0 V1088.8M538.2 1084.7 L535.4 1088.8" stroke="#000" stroke-width="1.2" fill="none" stroke-linejoin="miter" stroke-linecap="butt"/>
<path d="M541.4 1084.3 H547.0M541.4 1085.3 H544.8M541.4 1086.2 H547.0M541.4 1088.5 H544.8M543.1 1082.0 V1088.8M544.3 1083.0 V1087.8M544.2 1084.7 L541.4 1088.8M544.2 1085.1 L547.0 1088.8" stroke="#000" stroke-width="1.2" fill="none" stroke-linejoin="miter" stroke-linecap="butt"/>
<path d="M556.6 1085.3 H562.2M556.6 1086.2 H560.0M556.6 1088.5 H560.0M561.9 1082.0 V1088.8M558.3 1082.0 V1088.8M560.7 1084.4 V1088.8M559.4 1084.7 L556.6 1088.8M559.4 1085.1 L562.2 1088.8" stroke="#000" stroke-width="1.2" fill="none" stroke-linejoin="miter" stroke-linecap="butt"/>
<path d="M562.2 1085.3 H565.6M562.2 1086.2 H567.8M562.2 1087.2 H567.8M562.2 1088.5 H567.8M567.5 1084.4 V1088.8M566.3 1083.0 V1088.8M562.6 1082.0 V1088.8M565.0 1084.7 L562.2 1088.8M565.0 1085.1 L567.8 1088.8" stroke="#000" stroke-width="1.2" fill="none" stroke-linejoin="miter" stroke-linecap="butt"/>
<path d="M582.2 1082.4 H585.6M582.2 1086.2 H587.8M582.2 1087.2 H587.8M582.2 1088.5 H587.8M585.1 1082.0 V1088.8M586.3 1083.0 V1088.8M587.5 1083.0 V1088.8M585.0 1084.7 L582.2 1088.8M585.0 1085.1 L587.8 1088.8" stroke="#000" stroke-width="1.2" fill="none" stroke-linejoin="miter" stroke-linecap="butt"/>
<path d="M587.8 1083.4 H591.2M587.8 1085.3 H593.4M587.8 1087.2 H593.4M593.1 1082.0 V1088.8M590.7 1082.0 V1088.8M590.6 1085.1 L593.4 1088.8" stroke="#000" stroke-width="1.2" fill="none" stroke-linejoin="miter" stroke-linecap="butt"/>
<path d="M593.4 1083.4 H599.0M593.4 1084.3 H599.0M593.4 1085.3 H599.0M593.4 1088.5 H596.8M595.1 1083.0 V1088.8M597.5 1084.4 V1088.8M593.8 1082.0 V1088.8M596.2 1084.7 L593.4 1088.8" stroke="#000" stroke-width="1.2" fill="none" stroke-linejoin="miter" stroke-linecap="butt"/>
<path d="M476.20000000000005 1081.6 q-1.8 3.8 0 7.6 M488.79999999999995 1081.6 q1.8 3.8 0 7.6" stroke="#000" stroke-width="1.0" fill="none" stroke-linejoin="miter" stroke-linecap="butt"/>
<path d="M500.6 1081.6 q-1.8 3.8 0 7.6 M521.0 1081.6 q1.8 3.8 0 7.6" stroke="#000" stroke-width="1.0" fill="none" stroke-linejoin="miter" stroke-linecap="butt"/>
<path d="M554.6 1081.6 q-1.8 3.8 0 7.6 M567.0 1081.6 q1.8 3.8 0 7.6" stroke="#000" stroke-width="1.0" fill="none" stroke-linejoin="miter" stroke-linecap="butt"/>
<path d="M579.0 1081.6 q-1.8 3.8 0 7.6 M598.8 1081.6 q1.8 3.8 0 7.6" stroke="#000" stroke-width="1.0" fill="none" stroke-linejoin="miter" stroke-linecap="butt"/>
<path d="M452.4 1109.8 H458.0M454.6 1110.7 H458.0M454.6 1111.7 H458.0M452.4 1114.9 H458.0M452.8 1110.8 V1115.2M454.1 1108.4 V1115.2M455.3 1108.4 V1115.2M455.2 1111.1 L452.4 1115.2M455.2 1111.5 L458.0 1115.2" stroke="#000" stroke-width="1.2" fill="none" stroke-linejoin="miter" stroke-linecap="butt"/>
<path d="M462.6 1108.8 H466.0M462.6 1109.8 H468.2M462.6 1111.7 H468.2M463.0 1109.4 V1114.2M466.7 1108.4 V1115.2M465.5 1108.4 V1114.2M465.4 1111.1 L462.6 1115.2M465.4 1111.5 L468.2 1115.2" stroke="#000" stroke-width="1.2" fill="none" stroke-linejoin="miter" stroke-linecap="butt"/>
<path d="M452.4 1123.0 H458.0M452.4 1123.9 H458.0M452.4 1124.9 H458.0M452.8 1124.0 V1128.4M457.7 1121.6 V1128.4M455.3 1121.6 V1127.4M455.2 1124.3 L452.4 1128.4M455.2 1124.7 L458.0 1128.4" stroke="#000" stroke-width="1.2" fill="none" stroke-linejoin="miter" stroke-linecap="butt"/>
<path d="M462.6 1123.0 H468.2M464.8 1123.9 H468.2M462.6 1125.8 H468.2M465.5 1121.6 V1128.4M466.7 1124.0 V1128.4M465.4 1124.3 L462.6 1128.4" stroke="#000" stroke-width="1.2" fill="none" stroke-linejoin="miter" stroke-linecap="butt"/>
<path d="M529.4 1123.0 H535.0M529.4 1123.9 H535.0M529.4 1125.8 H532.8M529.8 1121.6 V1128.4M534.7 1124.0 V1127.4M531.1 1121.6 V1128.4" stroke="#000" stroke-width="1.2" fill="none" stroke-linejoin="miter" stroke-linecap="butt"/>
<path d="M541.0 1122.0 H546.6M541.0 1123.0 H546.6M541.0 1124.9 H546.6M541.0 1125.8 H546.6M546.3 1121.6 V1128.4M541.4 1121.6 V1128.4M543.8 1124.3 L541.0 1128.4M543.8 1124.7 L546.6 1128.4" stroke="#000" stroke-width="1.2" fill="none" stroke-linejoin="miter" stroke-linecap="butt"/>
<path d="M610.6 1085.0 H616.2M610.6 1086.0 H616.2M610.6 1087.9 H616.2M612.8 1088.8 H616.2M615.9 1084.6 V1091.4M613.5 1084.6 V1091.4M613.4 1087.7 L616.2 1091.4" stroke="#000" stroke-width="1.2" fill="none" stroke-linejoin="miter" stroke-linecap="butt"/>
<path d="M624.4 1086.0 H627.8M624.4 1089.8 H627.8M622.2 1091.1 H627.8M626.3 1084.6 V1091.4M627.5 1084.6 V1091.4M625.1 1085.6 V1091.4M625.0 1087.3 L622.2 1091.4M625.0 1087.7 L627.8 1091.4" stroke="#000" stroke-width="1.2" fill="none" stroke-linejoin="miter" stroke-linecap="butt"/>
<path d="M633.2 1086.9 H638.8M633.2 1087.9 H638.8M633.2 1088.8 H636.6M633.2 1091.1 H638.8M638.5 1084.6 V1091.4M634.9 1087.0 V1091.4M636.0 1087.3 L633.2 1091.4M636.0 1087.7 L638.8 1091.4" stroke="#000" stroke-width="1.2" fill="none" stroke-linejoin="miter" stroke-linecap="butt"/>
<path d="M644.0 1087.9 H649.6M644.0 1089.8 H649.6M644.0 1091.1 H649.6M644.4 1084.6 V1091.4M646.9 1084.6 V1091.4M649.3 1085.6 V1091.4M646.8 1087.3 L644.0 1091.4M646.8 1087.7 L649.6 1091.4" stroke="#000" stroke-width="1.2" fill="none" stroke-linejoin="miter" stroke-linecap="butt"/>
<path d="M656.2 1085.0 H661.8M658.4 1088.8 H661.8M656.2 1089.8 H659.6M661.5 1085.6 V1091.4M657.9 1085.6 V1091.4M659.0 1087.3 L656.2 1091.4M659.0 1087.7 L661.8 1091.4" stroke="#000" stroke-width="1.2" fill="none" stroke-linejoin="miter" stroke-linecap="butt"/>
<path d="M669.2 1086.0 H672.6M667.0 1087.9 H672.6M669.2 1088.8 H672.6M667.0 1091.1 H670.4M669.9 1084.6 V1091.4M667.4 1084.6 V1091.4M669.8 1087.3 L667.0 1091.4M669.8 1087.7 L672.6 1091.4" stroke="#000" stroke-width="1.2" fill="none" stroke-linejoin="miter" stroke-linecap="butt"/>
<path d="M680.0 1085.0 H685.6M682.2 1086.0 H685.6M680.0 1086.9 H685.6M680.0 1088.8 H685.6M680.4 1084.6 V1090.4M681.7 1085.6 V1091.4M682.8 1087.3 L680.0 1091.4M682.8 1087.7 L685.6 1091.4" stroke="#000" stroke-width="1.2" fill="none" stroke-linejoin="miter" stroke-linecap="butt"/>
<path d="M691.0 1085.0 H694.4M691.0 1086.0 H696.6M691.0 1086.9 H696.6M691.0 1089.8 H696.6M695.1 1084.6 V1091.4M693.9 1084.6 V1091.4M696.3 1087.0 V1090.4M693.8 1087.3 L691.0 1091.4M693.8 1087.7 L696.6 1091.4" stroke="#000" stroke-width="1.2" fill="none" stroke-linejoin="miter" stroke-linecap="butt"/>
<path d="M617.2 1123.1 H620.6M619.4 1124.1 H622.8M619.4 1125.0 H622.8M620.1 1121.8 V1127.6M622.5 1123.2 V1126.6M620.0 1123.5 L617.2 1127.6" stroke="#000" stroke-width="1.2" fill="none" stroke-linejoin="miter" stroke-linecap="butt"/>
<path d="M639.0 1122.2 H644.6M641.2 1123.1 H644.6M641.2 1124.1 H644.6M639.0 1127.3 H644.6M641.9 1121.8 V1127.6M640.7 1123.2 V1127.6M641.8 1123.5 L639.0 1127.6M641.8 1123.9 L644.6 1127.6" stroke="#000" stroke-width="1.2" fill="none" stroke-linejoin="miter" stroke-linecap="butt"/>
<path d="M663.0 1123.1 H666.4M663.0 1124.1 H666.4M663.0 1125.0 H666.4M660.8 1127.3 H666.4M663.7 1120.8 V1126.6M664.9 1120.8 V1127.6M661.2 1123.2 V1127.6M663.6 1123.5 L660.8 1127.6M663.6 1123.9 L666.4 1127.6" stroke="#000" stroke-width="1.2" fill="none" stroke-linejoin="miter" stroke-linecap="butt"/>
<path d="M686.2 1122.2 H689.6M686.2 1124.1 H689.6M684.0 1126.0 H689.6M686.9 1121.8 V1127.6M689.3 1121.8 V1126.6M686.8 1123.5 L684.0 1127.6" stroke="#000" stroke-width="1.2" fill="none" stroke-linejoin="miter" stroke-linecap="butt"/>
</svg>
</body></html>
